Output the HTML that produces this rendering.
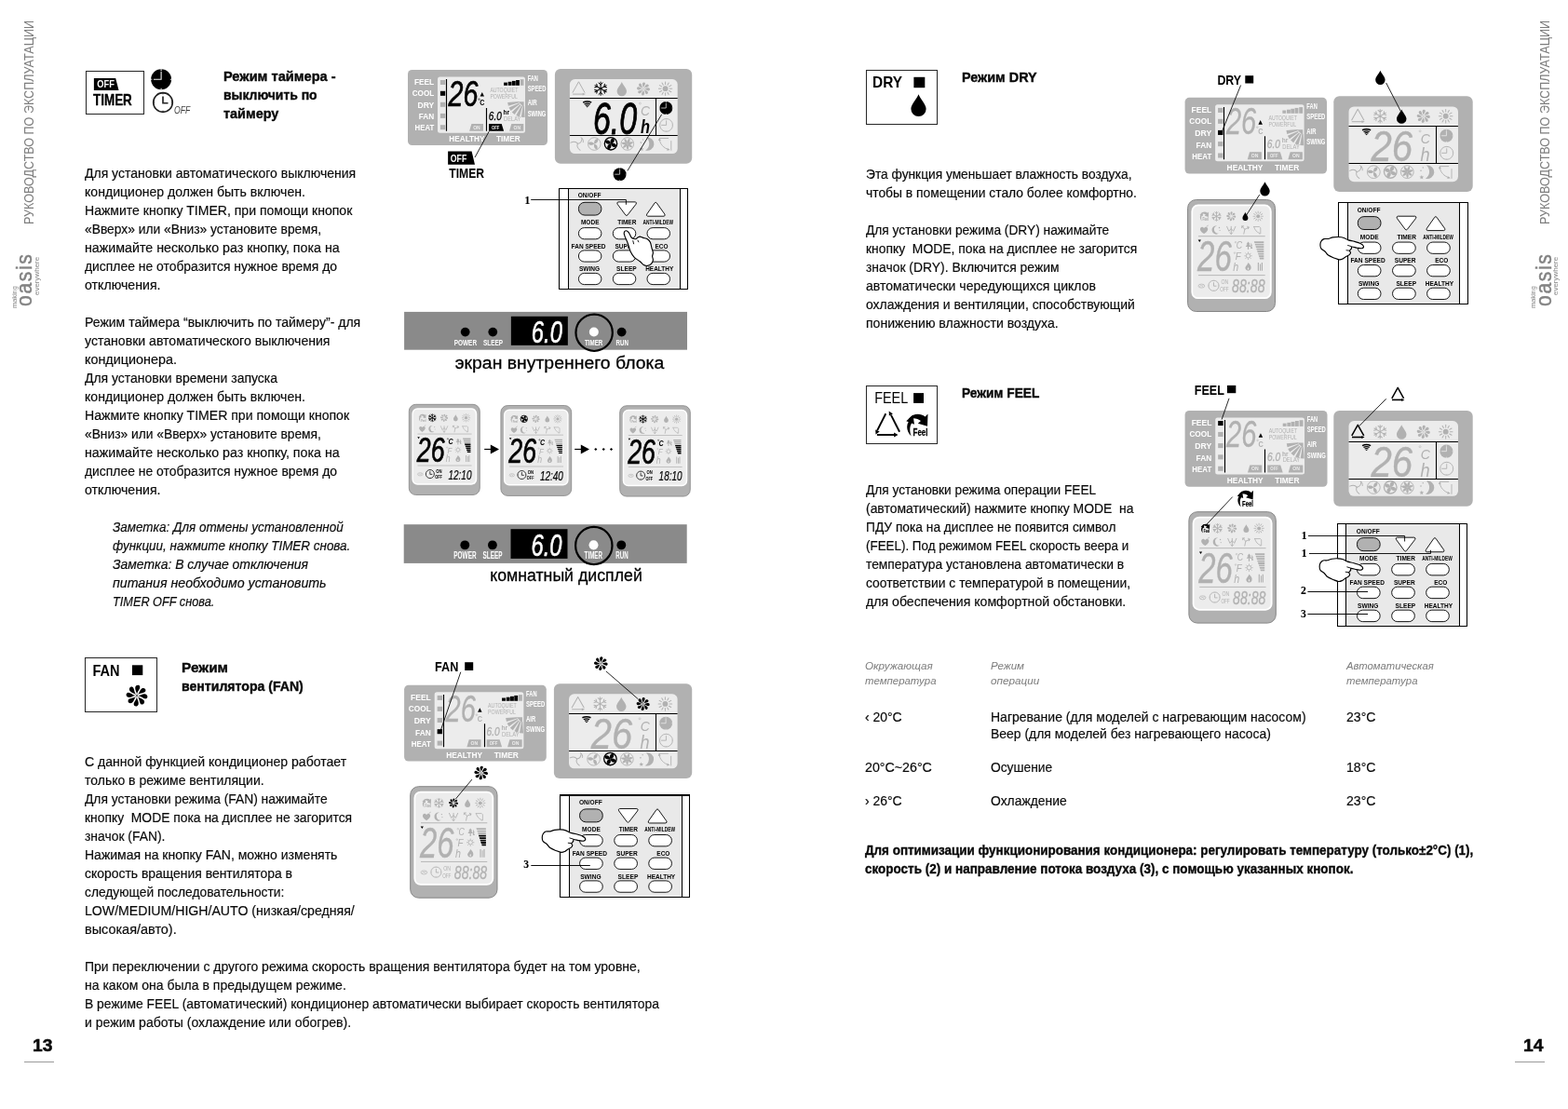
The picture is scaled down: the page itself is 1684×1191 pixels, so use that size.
<!DOCTYPE html>
<html lang="ru">
<head>
<meta charset="utf-8">
<title>Руководство по эксплуатации — стр. 13–14</title>
<style>
html,body{margin:0;padding:0}
body{width:1684px;height:1191px;position:relative;overflow:hidden;background:#fff;
font-family:"Liberation Sans",sans-serif;-webkit-font-smoothing:antialiased}
.spread{position:absolute;left:0;top:0;width:1684px;height:1191px;will-change:transform}
.t{position:absolute;white-space:pre;transform-origin:0 0;margin:0}
.side{position:absolute;white-space:nowrap;transform-origin:0 0;color:#7d7d7d;font-size:15px;line-height:15px}
.logo{position:absolute;white-space:nowrap;transform-origin:0 0;color:#8b8b8b;line-height:1}
.logo.big{font-weight:400;font-size:23.6px;color:#828282;-webkit-text-stroke:0.45px #828282;letter-spacing:1.8px}
.logo.sm{font-size:7px;color:#858585}
.pnl{position:absolute;height:0;border-top:1px solid #9a9a9a}
svg.art{position:absolute;left:0;top:0;width:1684px;height:1191px;overflow:visible}
svg.art{font-family:"Liberation Sans",sans-serif;font-weight:700}
.t.b{font-size:14.7px;line-height:20px;font-weight:400;font-style:normal;color:#0a0a0a;-webkit-text-stroke:0.18px currentColor}
.t.h{font-size:15.5px;line-height:20px;font-weight:700;font-style:normal;color:#0a0a0a;-webkit-text-stroke:0.42px currentColor}
.t.i{font-size:14.7px;line-height:20px;font-weight:400;font-style:italic;color:#0a0a0a;-webkit-text-stroke:0.18px currentColor}
.t.th{font-size:11.8px;line-height:16px;font-weight:400;font-style:italic;color:#7c7c7c}
.t.bb{font-size:14.8px;line-height:20px;font-weight:700;font-style:normal;color:#0a0a0a;-webkit-text-stroke:0.38px currentColor}
.t.pn{font-size:18.2px;line-height:20px;font-weight:700;font-style:normal;color:#0a0a0a;-webkit-text-stroke:0.5px currentColor}</style>
</head>
<body>
<div class="spread">
<div class="side" id="sl" style="left:23.2px;top:240.6px;transform:rotate(-90deg) scaleX(0.8378)">РУКОВОДСТВО ПО ЭКСПЛУАТАЦИИ</div>
<div class="side" id="sr" style="left:1651.1px;top:240.6px;transform:rotate(-90deg) scaleX(0.8378)">РУКОВОДСТВО ПО ЭКСПЛУАТАЦИИ</div>
<div class="logo big" id="lgL" style="left:15.42px;top:329px;transform:rotate(-90deg) scaleX(0.8987)">oasis</div>
<div class="logo sm" id="mkL" style="left:12.27px;top:331px;transform:rotate(-90deg) scaleX(1.0541)">making</div>
<div class="logo sm" id="evL" style="left:36.07px;top:316.6px;transform:rotate(-90deg) scaleX(1.1385)">everywhere</div>
<div class="logo big" id="lgR" style="left:1646.62px;top:329px;transform:rotate(-90deg) scaleX(0.8987)">oasis</div>
<div class="logo sm" id="mkR" style="left:1643.47px;top:331px;transform:rotate(-90deg) scaleX(1.0541)">making</div>
<div class="logo sm" id="evR" style="left:1667.27px;top:316.6px;transform:rotate(-90deg) scaleX(1.1385)">everywhere</div>
<div class="pnl" style="left:26px;top:1140px;width:32px"></div>
<div class="pnl" style="left:1627px;top:1140px;width:32px"></div>
<h2 class="t h" id="l0" style="left:240.3px;top:71.53px;transform:scaleX(0.9418)">Режим таймера -</h2>
<h2 class="t h" id="l1" style="left:240.3px;top:91.53px;transform:scaleX(0.8982)">выключить по</h2>
<h2 class="t h" id="l2" style="left:240.3px;top:111.53px;transform:scaleX(0.9307)">таймеру</h2>
<p class="t b" id="l3" style="left:91.2px;top:175.61px;transform:scaleX(0.9533)">Для установки автоматического выключения</p>
<p class="t b" id="l4" style="left:91.2px;top:195.61px;transform:scaleX(0.9582)">кондиционер должен быть включен.</p>
<p class="t b" id="l5" style="left:91.2px;top:215.61px;transform:scaleX(0.9555)">Нажмите кнопку TIMER, при помощи кнопок</p>
<p class="t b" id="l6" style="left:91.2px;top:235.61px;transform:scaleX(0.9400)">«Вверх» или «Вниз» установите время,</p>
<p class="t b" id="l7" style="left:91.2px;top:255.61px;transform:scaleX(0.9692)">нажимайте несколько раз кнопку, пока на</p>
<p class="t b" id="l8" style="left:91.2px;top:275.61px;transform:scaleX(0.9461)">дисплее не отобразится нужное время до</p>
<p class="t b" id="l9" style="left:91.2px;top:295.61px;transform:scaleX(0.9633)">отключения.</p>
<p class="t b" id="l10" style="left:91.2px;top:335.61px;transform:scaleX(0.9551)">Режим таймера “выключить по таймеру”- для</p>
<p class="t b" id="l11" style="left:91.2px;top:355.61px;transform:scaleX(0.9588)">установки автоматического выключения</p>
<p class="t b" id="l12" style="left:91.2px;top:375.61px;transform:scaleX(0.9778)">кондиционера.</p>
<p class="t b" id="l13" style="left:91.2px;top:395.61px;transform:scaleX(0.9508)">Для установки времени запуска</p>
<p class="t b" id="l14" style="left:91.2px;top:415.61px;transform:scaleX(0.9582)">кондиционер должен быть включен.</p>
<p class="t b" id="l15" style="left:91.2px;top:435.61px;transform:scaleX(0.9579)">Нажмите кнопку TIMER при помощи кнопок</p>
<p class="t b" id="l16" style="left:91.2px;top:455.61px;transform:scaleX(0.9393)">«Вниз» или «Вверх» установите время,</p>
<p class="t b" id="l17" style="left:91.2px;top:475.61px;transform:scaleX(0.9692)">нажимайте несколько раз кнопку, пока на</p>
<p class="t b" id="l18" style="left:91.2px;top:495.61px;transform:scaleX(0.9461)">дисплее не отобразится нужное время до</p>
<p class="t b" id="l19" style="left:91.2px;top:515.61px;transform:scaleX(0.9633)">отключения.</p>
<p class="t i" id="l20" style="left:120.9px;top:555.61px;transform:scaleX(0.9172)">Заметка: Для отмены установленной</p>
<p class="t i" id="l21" style="left:120.9px;top:575.61px;transform:scaleX(0.9155)">функции, нажмите кнопку TIMER снова.</p>
<p class="t i" id="l22" style="left:120.9px;top:595.61px;transform:scaleX(0.9488)">Заметка: В случае отключения</p>
<p class="t i" id="l23" style="left:120.9px;top:615.61px;transform:scaleX(0.9655)">питания необходимо установить</p>
<p class="t i" id="l24" style="left:120.9px;top:635.61px;transform:scaleX(0.8664)">TIMER OFF снова.</p>
<h2 class="t h" id="l25" style="left:194.7px;top:707.43px;transform:scaleX(0.9929)">Режим</h2>
<h2 class="t h" id="l26" style="left:194.7px;top:727.03px;transform:scaleX(0.9090)">вентилятора (FAN)</h2>
<p class="t b" id="l27" style="left:91.2px;top:807.61px;transform:scaleX(0.9572)">С данной функцией кондиционер работает</p>
<p class="t b" id="l28" style="left:91.2px;top:827.61px;transform:scaleX(0.9526)">только в режиме вентиляции.</p>
<p class="t b" id="l29" style="left:91.2px;top:847.61px;transform:scaleX(0.9405)">Для установки режима (FAN) нажимайте</p>
<p class="t b" id="l30" style="left:91.2px;top:867.61px;transform:scaleX(0.9440)">кнопку  MODE пока на дисплее не загорится</p>
<p class="t b" id="l31" style="left:91.2px;top:887.61px;transform:scaleX(0.9447)">значок (FAN).</p>
<p class="t b" id="l32" style="left:91.2px;top:907.61px;transform:scaleX(0.9529)">Нажимая на кнопку FAN, можно изменять</p>
<p class="t b" id="l33" style="left:91.2px;top:927.61px;transform:scaleX(0.9479)">скорость вращения вентилятора в</p>
<p class="t b" id="l34" style="left:91.2px;top:947.61px;transform:scaleX(0.9388)">следующей последовательности:</p>
<p class="t b" id="l35" style="left:91.2px;top:967.61px;transform:scaleX(0.9608)">LOW/MEDIUM/HIGH/AUTO (низкая/средняя/</p>
<p class="t b" id="l36" style="left:91.2px;top:987.61px;transform:scaleX(0.9836)">высокая/авто).</p>
<p class="t b" id="l37" style="left:91.2px;top:1027.61px;transform:scaleX(0.9526)">При переключении с другого режима скорость вращения вентилятора будет на том уровне,</p>
<p class="t b" id="l38" style="left:91.2px;top:1047.61px;transform:scaleX(0.9543)">на каком она была в предыдущем режиме.</p>
<p class="t b" id="l39" style="left:91.2px;top:1067.61px;transform:scaleX(0.9458)">В режиме FEEL (автоматический) кондиционер автоматически выбирает скорость вентилятора</p>
<p class="t b" id="l40" style="left:91.2px;top:1087.61px;transform:scaleX(0.9571)">и режим работы (охлаждение или обогрев).</p>
<h2 class="t h" id="l41" style="left:1033.2px;top:72.63px;transform:scaleX(0.9284)">Режим DRY</h2>
<p class="t b" id="l42" style="left:930px;top:176.71px;transform:scaleX(0.9361)">Эта функция уменьшает влажность воздуха,</p>
<p class="t b" id="l43" style="left:930px;top:196.71px;transform:scaleX(0.9422)">чтобы в помещении стало более комфортно.</p>
<p class="t b" id="l44" style="left:930px;top:236.71px;transform:scaleX(0.9353)">Для установки режима (DRY) нажимайте</p>
<p class="t b" id="l45" style="left:930px;top:256.71px;transform:scaleX(0.9448)">кнопку  MODE, пока на дисплее не загорится</p>
<p class="t b" id="l46" style="left:930px;top:276.71px;transform:scaleX(0.9455)">значок (DRY). Включится режим</p>
<p class="t b" id="l47" style="left:930px;top:296.71px;transform:scaleX(0.9545)">автоматически чередующихся циклов</p>
<p class="t b" id="l48" style="left:930px;top:316.71px;transform:scaleX(0.9521)">охлаждения и вентиляции, способствующий</p>
<p class="t b" id="l49" style="left:930px;top:336.71px;transform:scaleX(0.9574)">понижению влажности воздуха.</p>
<h2 class="t h" id="l50" style="left:1033.2px;top:412.03px;transform:scaleX(0.8835)">Режим FEEL</h2>
<p class="t b" id="l51" style="left:930px;top:516.11px;transform:scaleX(0.9313)">Для установки режима операции FEEL</p>
<p class="t b" id="l52" style="left:930px;top:536.11px;transform:scaleX(0.9472)">(автоматический) нажмите кнопку MODE  на</p>
<p class="t b" id="l53" style="left:930px;top:556.11px;transform:scaleX(0.9362)">ПДУ пока на дисплее не появится символ</p>
<p class="t b" id="l54" style="left:930px;top:576.11px;transform:scaleX(0.9118)">(FEEL). Под режимом FEEL скорость веера и</p>
<p class="t b" id="l55" style="left:930px;top:596.11px;transform:scaleX(0.9413)">температура установлена автоматически в</p>
<p class="t b" id="l56" style="left:930px;top:616.11px;transform:scaleX(0.9456)">соответствии с температурой в помещении,</p>
<p class="t b" id="l57" style="left:930px;top:636.11px;transform:scaleX(0.9613)">для обеспечения комфортной обстановки.</p>
<p class="t th" id="l58" style="left:929.3px;top:706.81px;transform:scaleX(0.9901)">Окружающая</p>
<p class="t th" id="l59" style="left:929.3px;top:723.11px;transform:scaleX(0.9670)">температура</p>
<p class="t th" id="l60" style="left:1063.9px;top:706.81px;transform:scaleX(0.9746)">Режим</p>
<p class="t th" id="l61" style="left:1063.9px;top:723.11px;transform:scaleX(0.9922)">операции</p>
<p class="t th" id="l62" style="left:1445.6px;top:706.81px;transform:scaleX(0.9555)">Автоматическая</p>
<p class="t th" id="l63" style="left:1445.6px;top:723.11px;transform:scaleX(0.9670)">температура</p>
<p class="t b" id="l64" style="left:929.3px;top:760.11px;transform:scaleX(0.9498)">‹ 20°C</p>
<p class="t b" id="l65" style="left:1063.9px;top:760.11px;transform:scaleX(0.9526)">Нагревание (для моделей с нагревающим насосом)</p>
<p class="t b" id="l66" style="left:1063.9px;top:778.31px;transform:scaleX(0.9489)">Веер (для моделей без нагревающего насоса)</p>
<p class="t b" id="l67" style="left:1445.6px;top:760.11px;transform:scaleX(0.9565)">23°C</p>
<p class="t b" id="l68" style="left:929.3px;top:814.11px;transform:scaleX(0.9688)">20°C~26°C</p>
<p class="t b" id="l69" style="left:1063.9px;top:814.11px;transform:scaleX(0.9382)">Осушение</p>
<p class="t b" id="l70" style="left:1445.6px;top:814.11px;transform:scaleX(0.9565)">18°C</p>
<p class="t b" id="l71" style="left:929.3px;top:850.41px;transform:scaleX(0.9498)">› 26°C</p>
<p class="t b" id="l72" style="left:1063.9px;top:850.41px;transform:scaleX(0.9445)">Охлаждение</p>
<p class="t b" id="l73" style="left:1445.6px;top:850.41px;transform:scaleX(0.9565)">23°C</p>
<p class="t bb" id="l74" style="left:929.3px;top:902.97px;transform:scaleX(0.9080)">Для оптимизации функционирования кондиционера: регулировать температуру (только±2°C) (1),</p>
<p class="t bb" id="l75" style="left:929.3px;top:922.97px;transform:scaleX(0.9115)">скорость (2) и направление потока воздуха (3), с помощью указанных кнопок.</p>
<div class="t pn" id="l76" style="left:34.6px;top:1112.89px;transform:scaleX(1.0576)">13</div>
<div class="t pn" id="l77" style="left:1635.6px;top:1112.89px;transform:scaleX(1.0576)">14</div>
<svg class="art" role="img" aria-label="Иллюстрации: дисплеи и пульт управления" width="1684" height="1191" viewBox="0 0 1684 1191"><defs><g id="i-tri"><path d="M-6.6 4.6L0 -7.2L6.6 4.6" stroke="currentColor" fill="none" stroke-width="1" stroke-linejoin="round"/><path d="M-6.4 6.1H5.2" stroke="currentColor" fill="none" stroke-width="1"/><path d="M4.2 4.7L7.4 6.1L4.2 7.5Z" fill="currentColor" stroke="none"/></g><g id="i-trib"><path d="M-6.4 4.4L0 -7L6.4 4.4" stroke="currentColor" fill="none" stroke-width="1.5" stroke-linejoin="round"/><path d="M-6.2 6H5" stroke="currentColor" fill="none" stroke-width="1.6"/><path d="M4 4.5L7.2 6L4 7.5Z" fill="currentColor" stroke="none"/></g><g id="i-tri3"><path d="M-2.2 -11L-11.4 7.2" stroke="currentColor" fill="none" stroke-width="1.9"/><path d="M-13.3 6.2L-13 11.4L-8.8 8.4Z" fill="currentColor" stroke="none"/><path d="M12.6 8.6L3.4 -9.6" stroke="currentColor" fill="none" stroke-width="1.9"/><path d="M1.4 -8.6L1.2 -13.8L5.4 -10.8Z" fill="currentColor" stroke="none"/><path d="M-11.6 11.8H7.6" stroke="currentColor" fill="none" stroke-width="1.9"/><path d="M6.6 9.2L11 11.8L6.6 14.4Z" fill="currentColor" stroke="none"/></g><g id="i-snow" stroke="currentColor" fill="none" stroke-width="1" stroke-linecap="round"><g transform="rotate(0)"><path d="M0 0V-7.1M0 -4.2L-2.1 -6.2M0 -4.2L2.1 -6.2"/></g><g transform="rotate(60)"><path d="M0 0V-7.1M0 -4.2L-2.1 -6.2M0 -4.2L2.1 -6.2"/></g><g transform="rotate(120)"><path d="M0 0V-7.1M0 -4.2L-2.1 -6.2M0 -4.2L2.1 -6.2"/></g><g transform="rotate(180)"><path d="M0 0V-7.1M0 -4.2L-2.1 -6.2M0 -4.2L2.1 -6.2"/></g><g transform="rotate(240)"><path d="M0 0V-7.1M0 -4.2L-2.1 -6.2M0 -4.2L2.1 -6.2"/></g><g transform="rotate(300)"><path d="M0 0V-7.1M0 -4.2L-2.1 -6.2M0 -4.2L2.1 -6.2"/></g></g><path id="i-drop" d="M0 -7.4C1.3 -4.2 5.2 -0.4 5.2 2.6A5.2 5.2 0 0 1 -5.2 2.6C-5.2 -0.4 -1.3 -4.2 0 -7.4Z" fill="currentColor" stroke="none"/><g id="i-fan" fill="currentColor" stroke="none"><g transform="rotate(0)"><path d="M0.05 -0.9C-0.05 -2.4 -1.45 -3.9 -1.05 -5.6C-0.65 -7.2 1.45 -7.5 1.95 -6.1C2.45 -4.7 0.5 -3.3 0.05 -0.9Z"/></g><g transform="rotate(45)"><path d="M0.05 -0.9C-0.05 -2.4 -1.45 -3.9 -1.05 -5.6C-0.65 -7.2 1.45 -7.5 1.95 -6.1C2.45 -4.7 0.5 -3.3 0.05 -0.9Z"/></g><g transform="rotate(90)"><path d="M0.05 -0.9C-0.05 -2.4 -1.45 -3.9 -1.05 -5.6C-0.65 -7.2 1.45 -7.5 1.95 -6.1C2.45 -4.7 0.5 -3.3 0.05 -0.9Z"/></g><g transform="rotate(135)"><path d="M0.05 -0.9C-0.05 -2.4 -1.45 -3.9 -1.05 -5.6C-0.65 -7.2 1.45 -7.5 1.95 -6.1C2.45 -4.7 0.5 -3.3 0.05 -0.9Z"/></g><g transform="rotate(180)"><path d="M0.05 -0.9C-0.05 -2.4 -1.45 -3.9 -1.05 -5.6C-0.65 -7.2 1.45 -7.5 1.95 -6.1C2.45 -4.7 0.5 -3.3 0.05 -0.9Z"/></g><g transform="rotate(225)"><path d="M0.05 -0.9C-0.05 -2.4 -1.45 -3.9 -1.05 -5.6C-0.65 -7.2 1.45 -7.5 1.95 -6.1C2.45 -4.7 0.5 -3.3 0.05 -0.9Z"/></g><g transform="rotate(270)"><path d="M0.05 -0.9C-0.05 -2.4 -1.45 -3.9 -1.05 -5.6C-0.65 -7.2 1.45 -7.5 1.95 -6.1C2.45 -4.7 0.5 -3.3 0.05 -0.9Z"/></g><g transform="rotate(315)"><path d="M0.05 -0.9C-0.05 -2.4 -1.45 -3.9 -1.05 -5.6C-0.65 -7.2 1.45 -7.5 1.95 -6.1C2.45 -4.7 0.5 -3.3 0.05 -0.9Z"/></g><circle r="0.8" opacity="0.55"/></g><g id="i-sun"><circle r="2.9" fill="currentColor" stroke="none"/><g stroke="currentColor" fill="none" stroke-width="1" stroke-linecap="round"><g transform="rotate(0)"><path d="M0 -4.6V-7.2"/></g><g transform="rotate(30)"><path d="M0 -4.6V-7.2"/></g><g transform="rotate(60)"><path d="M0 -4.6V-7.2"/></g><g transform="rotate(90)"><path d="M0 -4.6V-7.2"/></g><g transform="rotate(120)"><path d="M0 -4.6V-7.2"/></g><g transform="rotate(150)"><path d="M0 -4.6V-7.2"/></g><g transform="rotate(180)"><path d="M0 -4.6V-7.2"/></g><g transform="rotate(210)"><path d="M0 -4.6V-7.2"/></g><g transform="rotate(240)"><path d="M0 -4.6V-7.2"/></g><g transform="rotate(270)"><path d="M0 -4.6V-7.2"/></g><g transform="rotate(300)"><path d="M0 -4.6V-7.2"/></g><g transform="rotate(330)"><path d="M0 -4.6V-7.2"/></g></g></g><g id="i-wifi"><g stroke="currentColor" fill="none"><path d="M-4.5 -1.9Q0 -3.9 4.5 -1.9" stroke-width="1.5"/><path d="M-3.1 -0.1Q0 -1.5 3.1 -0.1" stroke-width="1.3"/><path d="M-1.9 1.5Q0 0.7 1.9 1.5" stroke-width="1.2"/></g><path d="M-1.2 2.4H1.2L0 3.5Z" fill="currentColor" stroke="none"/></g><g id="i-clockf"><circle r="7" fill="currentColor" stroke="none"/><path d="M0 -5.4V0H-5.2" fill="none" stroke="#f2f2f2" stroke-width="0.7"/><path d="M0 -7V-6M0 7V6M-7 0H-6.2M7 0H6.2" fill="none" stroke="#f2f2f2" stroke-width="0.7"/></g><g id="i-clocko" stroke="currentColor" fill="none"><circle r="6.9" stroke-width="0.9"/><path d="M0 -5V0H-5.4" stroke-width="0.9"/><path d="M0 -6.9V-6M0 6.9V6M6.9 0H6" stroke-width="0.7"/></g><g id="i-clocks" stroke="currentColor" fill="none"><circle r="5.6" stroke-width="0.9"/><path d="M0 -3.6V0.4H3" stroke-width="0.9"/><path d="M0 -5.6V-4.8M0 5.6V4.8M5.6 0H4.8M-5.6 0H-4.8" stroke-width="0.6"/></g><g id="i-swirl" stroke="currentColor" fill="none" stroke-width="0.95" stroke-linecap="round"><g transform="rotate(10)"><path d="M0 0C2.2 -0.6 4 -2.6 3.6 -6.6"/></g><g transform="rotate(130)"><path d="M0 0C2.2 -0.6 4 -2.6 3.6 -6.6"/></g><g transform="rotate(250)"><path d="M0 0C2.2 -0.6 4 -2.6 3.6 -6.6"/></g><path d="M3.6 -6.6C5.6 -5.4 6.4 -3.6 6 -1.6"/></g><g id="i-fan3"><circle r="6.8" stroke="currentColor" fill="none" stroke-width="0.9"/><g fill="currentColor" stroke="none"><g transform="rotate(20)"><path d="M0 0C-1.6 -2.4 -1 -5.4 1.6 -6.4C3.4 -4.4 2.6 -1.6 0 0Z"/></g><g transform="rotate(140)"><path d="M0 0C-1.6 -2.4 -1 -5.4 1.6 -6.4C3.4 -4.4 2.6 -1.6 0 0Z"/></g><g transform="rotate(260)"><path d="M0 0C-1.6 -2.4 -1 -5.4 1.6 -6.4C3.4 -4.4 2.6 -1.6 0 0Z"/></g></g></g><g id="i-fan4"><circle r="6.7" stroke="currentColor" fill="none" stroke-width="1.3"/><g fill="currentColor" stroke="none"><g transform="rotate(35)"><path d="M0 0C-2.6 -1.6 -3.4 -4.6 -1.2 -6.6C1.8 -5.8 2.6 -2.6 0 0Z"/></g><g transform="rotate(125)"><path d="M0 0C-2.6 -1.6 -3.4 -4.6 -1.2 -6.6C1.8 -5.8 2.6 -2.6 0 0Z"/></g><g transform="rotate(215)"><path d="M0 0C-2.6 -1.6 -3.4 -4.6 -1.2 -6.6C1.8 -5.8 2.6 -2.6 0 0Z"/></g><g transform="rotate(305)"><path d="M0 0C-2.6 -1.6 -3.4 -4.6 -1.2 -6.6C1.8 -5.8 2.6 -2.6 0 0Z"/></g></g></g><g id="i-fan6"><circle r="6.8" stroke="currentColor" fill="none" stroke-width="0.9"/><g fill="currentColor" stroke="none"><g transform="rotate(5)"><path d="M0 0C-1 -2.4 -0.2 -5 2 -6.3C3 -4 2.2 -1.4 0 0Z"/></g><g transform="rotate(56.43)"><path d="M0 0C-1 -2.4 -0.2 -5 2 -6.3C3 -4 2.2 -1.4 0 0Z"/></g><g transform="rotate(107.86)"><path d="M0 0C-1 -2.4 -0.2 -5 2 -6.3C3 -4 2.2 -1.4 0 0Z"/></g><g transform="rotate(159.29)"><path d="M0 0C-1 -2.4 -0.2 -5 2 -6.3C3 -4 2.2 -1.4 0 0Z"/></g><g transform="rotate(210.71)"><path d="M0 0C-1 -2.4 -0.2 -5 2 -6.3C3 -4 2.2 -1.4 0 0Z"/></g><g transform="rotate(262.14)"><path d="M0 0C-1 -2.4 -0.2 -5 2 -6.3C3 -4 2.2 -1.4 0 0Z"/></g><g transform="rotate(313.57)"><path d="M0 0C-1 -2.4 -0.2 -5 2 -6.3C3 -4 2.2 -1.4 0 0Z"/></g></g></g><g id="i-moon" fill="currentColor" stroke="none"><path d="M0.4 -7A7.2 7.2 0 1 1 -0.6 7A8.6 8.6 0 0 0 0.4 -7Z"/><path d="M-4.6 3.2l0.7 1.5 1.6 0.2-1.2 1.1 0.3 1.6-1.4-0.8-1.4 0.8 0.3-1.6-1.2-1.1 1.6-0.2Z"/><circle cx="-5.4" cy="-1.4" r="0.8"/><circle cx="-3.2" cy="-4.6" r="0.7"/></g><g id="i-swing"><g stroke="currentColor" fill="none" stroke-width="0.9" stroke-linecap="round"><path d="M-5.6 -6H3.4"/><path d="M-6 -5.2C-5.6 0 -1.6 4.8 4.4 6.2"/><path d="M6.6 -3V6.8"/></g><path d="M-7.2 -3.4L-6 -6.4L-4.4 -3.6Z" fill="currentColor" stroke="none"/><path d="M2.6 4.6L5.2 6.6L2 7.2Z" fill="currentColor" stroke="none"/></g><g id="s-feel"><path d="M-1.9 -3.2C-4.6 -1.2 -5.2 2 -2.4 5.1C-3.3 2.4 -3 0.6 -2.2 -0.7L-1 -0.2L-1.6 -4.4L-4.6 -1.6L-3.4 -1.2" fill="currentColor" stroke="none"/><path d="M-3.6 -2.6C-1.6 -5.2 1.6 -5.4 3.8 -3.6L5 -4.8L4.8 0.6L0.6 -0.6L1.9 -1.7C0.6 -3 -1.6 -3.2 -3.6 -2.6Z" fill="currentColor" stroke="none"/><text x="1.7" y="4.8" font-size="4.7" font-weight="700" text-anchor="middle" textLength="6.6" lengthAdjust="spacingAndGlyphs" fill="currentColor" stroke="currentColor" stroke-width="0.12">Feel</text></g><g id="s-snow" stroke="currentColor" fill="none" stroke-width="0.9" stroke-linecap="round"><g transform="rotate(0)"><path d="M0 0V-5M0 -3L-1.5 -4.5M0 -3L1.5 -4.5"/></g><g transform="rotate(60)"><path d="M0 0V-5M0 -3L-1.5 -4.5M0 -3L1.5 -4.5"/></g><g transform="rotate(120)"><path d="M0 0V-5M0 -3L-1.5 -4.5M0 -3L1.5 -4.5"/></g><g transform="rotate(180)"><path d="M0 0V-5M0 -3L-1.5 -4.5M0 -3L1.5 -4.5"/></g><g transform="rotate(240)"><path d="M0 0V-5M0 -3L-1.5 -4.5M0 -3L1.5 -4.5"/></g><g transform="rotate(300)"><path d="M0 0V-5M0 -3L-1.5 -4.5M0 -3L1.5 -4.5"/></g></g><g id="s-fan" fill="currentColor" stroke="none"><g transform="rotate(0)"><path d="M0.05 -0.7C0 -1.7 -1.05 -2.8 -0.75 -4C-0.45 -5.2 1.05 -5.4 1.4 -4.4C1.75 -3.4 0.35 -2.4 0.05 -0.7Z"/></g><g transform="rotate(45)"><path d="M0.05 -0.7C0 -1.7 -1.05 -2.8 -0.75 -4C-0.45 -5.2 1.05 -5.4 1.4 -4.4C1.75 -3.4 0.35 -2.4 0.05 -0.7Z"/></g><g transform="rotate(90)"><path d="M0.05 -0.7C0 -1.7 -1.05 -2.8 -0.75 -4C-0.45 -5.2 1.05 -5.4 1.4 -4.4C1.75 -3.4 0.35 -2.4 0.05 -0.7Z"/></g><g transform="rotate(135)"><path d="M0.05 -0.7C0 -1.7 -1.05 -2.8 -0.75 -4C-0.45 -5.2 1.05 -5.4 1.4 -4.4C1.75 -3.4 0.35 -2.4 0.05 -0.7Z"/></g><g transform="rotate(180)"><path d="M0.05 -0.7C0 -1.7 -1.05 -2.8 -0.75 -4C-0.45 -5.2 1.05 -5.4 1.4 -4.4C1.75 -3.4 0.35 -2.4 0.05 -0.7Z"/></g><g transform="rotate(225)"><path d="M0.05 -0.7C0 -1.7 -1.05 -2.8 -0.75 -4C-0.45 -5.2 1.05 -5.4 1.4 -4.4C1.75 -3.4 0.35 -2.4 0.05 -0.7Z"/></g><g transform="rotate(270)"><path d="M0.05 -0.7C0 -1.7 -1.05 -2.8 -0.75 -4C-0.45 -5.2 1.05 -5.4 1.4 -4.4C1.75 -3.4 0.35 -2.4 0.05 -0.7Z"/></g><g transform="rotate(315)"><path d="M0.05 -0.7C0 -1.7 -1.05 -2.8 -0.75 -4C-0.45 -5.2 1.05 -5.4 1.4 -4.4C1.75 -3.4 0.35 -2.4 0.05 -0.7Z"/></g></g><path id="s-drop" d="M0 -4.4C0.8 -2.4 3 -0.4 3 1.4A3 3 0 0 1 -3 1.4C-3 -0.4 -0.8 -2.4 0 -4.4Z" fill="currentColor" stroke="none"/><g id="s-sun"><circle r="2" fill="currentColor" stroke="none"/><g stroke="currentColor" fill="none" stroke-width="0.8" stroke-linecap="round"><g transform="rotate(0)"><path d="M0 -3.4V-5.2"/></g><g transform="rotate(30)"><path d="M0 -3.4V-5.2"/></g><g transform="rotate(60)"><path d="M0 -3.4V-5.2"/></g><g transform="rotate(90)"><path d="M0 -3.4V-5.2"/></g><g transform="rotate(120)"><path d="M0 -3.4V-5.2"/></g><g transform="rotate(150)"><path d="M0 -3.4V-5.2"/></g><g transform="rotate(180)"><path d="M0 -3.4V-5.2"/></g><g transform="rotate(210)"><path d="M0 -3.4V-5.2"/></g><g transform="rotate(240)"><path d="M0 -3.4V-5.2"/></g><g transform="rotate(270)"><path d="M0 -3.4V-5.2"/></g><g transform="rotate(300)"><path d="M0 -3.4V-5.2"/></g><g transform="rotate(330)"><path d="M0 -3.4V-5.2"/></g></g></g><g id="s-fanc"><circle r="4.6" stroke="currentColor" fill="none" stroke-width="1.1"/><g fill="currentColor" stroke="none"><g transform="rotate(35)"><path d="M0 0C-1.8 -1 -2.4 -3 -0.8 -4.4C1.2 -3.8 1.8 -1.8 0 0Z"/></g><g transform="rotate(125)"><path d="M0 0C-1.8 -1 -2.4 -3 -0.8 -4.4C1.2 -3.8 1.8 -1.8 0 0Z"/></g><g transform="rotate(215)"><path d="M0 0C-1.8 -1 -2.4 -3 -0.8 -4.4C1.2 -3.8 1.8 -1.8 0 0Z"/></g><g transform="rotate(305)"><path d="M0 0C-1.8 -1 -2.4 -3 -0.8 -4.4C1.2 -3.8 1.8 -1.8 0 0Z"/></g></g></g><g id="s-heart" fill="currentColor" stroke="none"><path d="M0 4.2C-3.6 2 -5 -0.4 -3.6 -2.4C-2.4 -3.8 -0.8 -3 0 -1.8C0.8 -3 2.4 -3.8 3.6 -2.4C5 -0.4 3.6 2 0 4.2Z"/><path d="M2.6 -3.6L4.6 -4.8" stroke="currentColor" stroke-width="0.8"/></g><g id="s-moon" fill="currentColor" stroke="none"><path d="M0.6 -4.4A4.6 4.6 0 1 0 2.6 3.6A3.8 3.8 0 0 1 0.6 -4.4Z"/><circle cx="3" cy="-2.4" r="0.7"/><circle cx="3.6" cy="0.6" r="0.6"/></g><g id="s-swv" stroke="currentColor" fill="none" stroke-width="0.9" stroke-linecap="round"><path d="M-4.6 -3.6L-2.4 1.4L0 -1.4L2.4 1.4L4.6 -3.6M0 -3.6V4.4M-1.4 3L0 4.6L1.4 3"/></g><g id="s-swh" stroke="currentColor" fill="none" stroke-width="0.9" stroke-linecap="round"><path d="M-3.6 -4L-0.6 -0.6L3.8 -2.8M-0.6 -0.6L-1.6 4.2M-3.8 -2.2L-3.6 -4L-1.8 -4M2.2 -3.6L3.8 -2.8L3 -1.2"/></g><g id="s-louv" stroke="currentColor" fill="none" stroke-width="0.8" stroke-linecap="round" stroke-linejoin="round"><path d="M-3.6 -3.4H2.4L3.6 -2.2V4H2.2M-3.6 -3.4C-2.4 0.4 -0.4 2.6 2.2 3.4"/></g><g id="s-tree" fill="currentColor" stroke="none"><path d="M0 -4.4L2 -1.6H1L2.8 1H-2.8L-1 -1.6H-2Z"/><path d="M-0.6 1H0.6V4H-0.6Z"/><path d="M3 -3.4L4.6 0.4H3.6L4.8 3H2.6Z"/></g><g id="s-gear" stroke="currentColor" fill="none" stroke-width="0.8"><circle r="2.2"/><g transform="rotate(0)"><path d="M0 -2.6V-4.2"/></g><g transform="rotate(45)"><path d="M0 -2.6V-4.2"/></g><g transform="rotate(90)"><path d="M0 -2.6V-4.2"/></g><g transform="rotate(135)"><path d="M0 -2.6V-4.2"/></g><g transform="rotate(180)"><path d="M0 -2.6V-4.2"/></g><g transform="rotate(225)"><path d="M0 -2.6V-4.2"/></g><g transform="rotate(270)"><path d="M0 -2.6V-4.2"/></g><g transform="rotate(315)"><path d="M0 -2.6V-4.2"/></g></g><g id="s-flame" fill="currentColor" stroke="none"><path d="M0 -4.4C2.6 -2 3.6 0 3 2.2C2.4 4 0.8 4.4 0 4.4C-0.8 4.4 -2.4 4 -3 2.2C-3.6 0 -1.4 -1 0 -4.4ZM0 0.6C-1 1.8 -1 3 0 3.4C1 3 1 1.8 0 0.6Z" fill-rule="evenodd"/></g><g id="s-heat" fill="currentColor" stroke="none"><path d="M-2.4 -4.4H-1.2V4.4H-2.4ZM-0.2 -3H0.8V4.4H-0.2ZM1.6 -4.4H2.8V4.4H1.6Z"/></g><g id="s-eco" stroke="currentColor" fill="none" stroke-width="0.7"><ellipse rx="3.4" ry="2"/><path d="M-1.8 0.6L-0.4 -0.8L0.6 0.4L2 -0.8"/></g></defs>
<g class="mode-box timer"><rect x="92.5" y="76.5" width="62" height="46" fill="#fff" stroke="#2a2a2a" stroke-width="1.05"/><path d="M100.9 84H124.2L127.5 96.9H100.9Z" fill="#000"/><text x="104.3" y="94.3" font-size="10.6" fill="#fff" textLength="18.6" lengthAdjust="spacingAndGlyphs">OFF</text><text x="100" y="112.9" font-size="16.2" fill="#000" stroke="#000" stroke-width="0.3" stroke-linejoin="round" textLength="41.8" lengthAdjust="spacingAndGlyphs">TIMER</text><use href="#i-clockf" transform="translate(173.1 85.3) scale(1.57)" color="#000"/><use href="#i-clocks" transform="translate(175 110) scale(1.84)" color="#222"/><text x="187" y="121.8" font-size="10.4" fill="#3c3c3c" font-weight="400" font-style="italic" textLength="17.2" lengthAdjust="spacingAndGlyphs">OFF</text></g>
<g class="figure timer"><g class="lcd-wide"><g transform="translate(438 75) scale(1.0000 1.0000)"><rect width="150" height="81" rx="4.5" fill="#b1b1b1"/><rect x="32" y="7.4" width="94" height="60.4" rx="2.5" fill="#ececec"/><text x="6.9" y="16.3" font-size="9.8" fill="#fff" textLength="21.3" lengthAdjust="spacingAndGlyphs">FEEL</text><text x="4.7" y="27.8" font-size="9.8" fill="#fff" textLength="23.5" lengthAdjust="spacingAndGlyphs">COOL</text><text x="10.5" y="40.5" font-size="9.8" fill="#fff" textLength="17.7" lengthAdjust="spacingAndGlyphs">DRY</text><text x="11.75" y="53.4" font-size="9.8" fill="#fff" textLength="16.45" lengthAdjust="spacingAndGlyphs">FAN</text><text x="7.6" y="65.2" font-size="9.8" fill="#fff" textLength="20.6" lengthAdjust="spacingAndGlyphs">HEAT</text><text x="128.7" y="11.75" font-size="9.6" fill="#fff" textLength="11.2" lengthAdjust="spacingAndGlyphs">FAN</text><text x="128.7" y="23.3" font-size="9.6" fill="#fff" textLength="19.7" lengthAdjust="spacingAndGlyphs">SPEED</text><text x="128.7" y="38.4" font-size="9.6" fill="#fff" textLength="10" lengthAdjust="spacingAndGlyphs">AIR</text><text x="128.7" y="50.2" font-size="9.6" fill="#fff" textLength="19.7" lengthAdjust="spacingAndGlyphs">SWING</text><text x="44.3" y="77.2" font-size="9.4" fill="#fff" textLength="38.2" lengthAdjust="spacingAndGlyphs">HEALTHY</text><text x="94.9" y="77.2" font-size="9.4" fill="#fff" textLength="25.8" lengthAdjust="spacingAndGlyphs">TIMER</text><rect x="34.9" y="11" width="5.3" height="5" fill="#b1b1b1"/><rect x="34.9" y="22.8" width="5.3" height="5" fill="#000"/><rect x="34.9" y="34.8" width="5.3" height="5" fill="#b1b1b1"/><rect x="34.9" y="46.9" width="5.3" height="5" fill="#b1b1b1"/><rect x="34.9" y="59.2" width="5.3" height="5" fill="#b1b1b1"/><text x="43.6" y="38.6" font-size="39.6" fill="#000" font-weight="400" font-style="italic" stroke="#000" stroke-width="0.7" stroke-linejoin="round" textLength="31.8" lengthAdjust="spacingAndGlyphs">26</text><path d="M77.6 28.6L79.8 24.1L82 28.6Z" fill="#000"/><text x="77.3" y="38.4" font-size="8.6" fill="#000" textLength="5.2" lengthAdjust="spacingAndGlyphs">C</text><circle cx="76.5" cy="31.6" r="0.8" fill="none" stroke="#000" stroke-width="0.5"/><rect x="103.1" y="13.6" width="3.8" height="3.2" fill="#000"/><rect x="107.7" y="12.8" width="3.8" height="4" fill="#000"/><rect x="111.9" y="11.9" width="3.8" height="4.9" fill="#000"/><rect x="116.1" y="11" width="3.8" height="5.8" fill="#000"/><rect x="120.7" y="10.2" width="3.8" height="6.6" fill="#b1b1b1"/><text x="88.4" y="23.9" font-size="7" fill="#b1b1b1" font-weight="400" textLength="30" lengthAdjust="spacingAndGlyphs">AUTOQUIET</text><text x="88.4" y="30.6" font-size="7" fill="#b1b1b1" font-weight="400" textLength="29.4" lengthAdjust="spacingAndGlyphs">POWERFUL</text><path d="M124.94 39.09L125.67 51.07L121.71 50.86L123.69 39.02Z" fill="#b1b1b1"/><path d="M123.13 38.9L119.92 50.46L116.25 48.98L121.98 38.43Z" fill="#b1b1b1"/><path d="M121.48 38.13L114.69 48.02L111.7 45.42L120.54 37.32Z" fill="#b1b1b1"/><path d="M120.18 36.87L110.53 44.01L108.55 40.58L119.56 35.79Z" fill="#b1b1b1"/><path d="M119.35 35.25L107.91 38.86L107.15 34.97L119.12 34.03Z" fill="#b1b1b1"/><path d="M124.6 34.2h-6l6 6z" fill="#b1b1b1"/><text x="86.8" y="53.5" font-size="13" fill="#000" font-weight="400" font-style="italic" stroke="#000" stroke-width="0.3" stroke-linejoin="round" textLength="14" lengthAdjust="spacingAndGlyphs">6.0</text><text x="102.5" y="48.2" font-size="7.6" fill="#000" textLength="6.5" lengthAdjust="spacingAndGlyphs">hr</text><text x="103.1" y="54.7" font-size="7" fill="#b1b1b1" font-weight="400" textLength="18.2" lengthAdjust="spacingAndGlyphs">DELAY</text><path d="M68.4 58H81V65.8H66.1Z" fill="#b1b1b1"/><text x="73.9" y="63.9" font-size="5" fill="#ececec" text-anchor="middle">ON</text><path d="M87 58H100.7L103.1 65.8H87Z" fill="#000"/><text x="94.2" y="63.9" font-size="5" fill="#ececec" text-anchor="middle" textLength="8.4" lengthAdjust="spacingAndGlyphs">OFF</text><path d="M111.3 58H124.3V65.8H109Z" fill="#b1b1b1"/><text x="117.3" y="63.9" font-size="5" fill="#ececec" text-anchor="middle">ON</text></g><path d="M479.5 85V140.8M522.5 116.1V140.8" stroke="#000" stroke-width="1.15" fill="none"/></g><path d="M525.2 141.2L510 169" stroke="#000" stroke-width="0.85" fill="none"/><path d="M481.1 162.6H506.6L510 176.7H481.1Z" fill="#000"/><text x="483.8" y="174" font-size="10.6" fill="#fff" textLength="17.4" lengthAdjust="spacingAndGlyphs">OFF</text><text x="482.3" y="190.8" font-size="14" fill="#000" textLength="37.7" lengthAdjust="spacingAndGlyphs">TIMER</text><g class="lcd-main"><g transform="translate(595.9 74.1) scale(1.0000 1.0000)"><rect width="147.3" height="101.7" rx="6" fill="#b1b1b1"/><rect x="16" y="11" width="115.8" height="79.9" rx="5.5" fill="#ececec"/><use href="#i-tri" transform="translate(25.6 20.9)" color="#b1b1b1"/><use href="#i-snow" transform="translate(49.2 21.1)" color="#000"/><use href="#i-drop" transform="translate(71.9 21.3)" color="#b1b1b1"/><use href="#i-fan" transform="translate(95.1 21.3)" color="#b1b1b1"/><use href="#i-sun" transform="translate(118.7 21.1)" color="#b1b1b1"/><use href="#i-wifi" transform="translate(34.8 37.8)" color="#000"/><text x="41" y="69.5" font-size="47.4" fill="#000" font-weight="400" font-style="italic" stroke="#000" stroke-width="0.9" stroke-linejoin="round" textLength="47.2" lengthAdjust="spacingAndGlyphs">6.0</text><circle cx="91.5" cy="37" r="1" fill="none" stroke="#b1b1b1" stroke-width="0.5"/><text x="92.2" y="49.9" font-size="15" fill="#b1b1b1" font-weight="400" font-style="italic" textLength="10" lengthAdjust="spacingAndGlyphs">C</text><text x="92" y="68.8" font-size="20" fill="#000" font-style="italic" textLength="10" lengthAdjust="spacingAndGlyphs">h</text><use href="#i-clockf" transform="translate(119.4 41.9)" color="#000"/><use href="#i-clocko" transform="translate(119.7 60.3)" color="#b1b1b1"/><use href="#i-swirl" transform="translate(24.5 80.21)" color="#b1b1b1"/><use href="#i-fan3" transform="translate(42.4 80.41)" color="#b1b1b1"/><use href="#i-fan4" transform="translate(60.1 80.21)" color="#000"/><use href="#i-fan6" transform="translate(77.9 80.41)" color="#b1b1b1"/><use href="#i-moon" transform="translate(97.8 80.41)" color="#b1b1b1"/><use href="#i-swing" transform="translate(118.3 80.41)" color="#b1b1b1"/></g><path d="M611.9 105.5H727.7M611.9 145.5H727.7M704.5 105.5V145.5" stroke="#000" stroke-width="1.05" fill="none"/></g><path d="M710.7 122.8L673.9 183.4" stroke="#000" stroke-width="0.85" fill="none"/><use href="#i-clockf" transform="translate(665.6 187.2)" color="#000"/><g class="keypad"><rect x="600.5" y="202.5" width="138" height="108" fill="#fff"/><rect x="610.5" y="202.5" width="120" height="108" fill="#e9e9e9"/><path d="M600.5 202.5H738.5V310.5H600.5ZM610.5 202.5V310.5M730.5 202.5V310.5" fill="none" stroke="#000" stroke-width="1.05"/><g class="keys" transform="translate(600.4 202.3) scale(1.0000 1.0000)"><rect x="21" y="15" width="24.5" height="13.8" rx="6.6" fill="#b1b1b1" stroke="#000" stroke-width="0.9"/><path d="M63.6 14.6H81.8Q84 15 82.6 17L73.6 28.6Q72.5 29.8 71.4 28.6L62.8 17Q61.6 15 63.6 14.6Z" fill="#fff" stroke="#000" stroke-width="0.9"/><path d="M95.2 29.9H112.6Q114.6 29.4 113.4 27.6L104.8 15.6Q103.8 14.4 102.8 15.6L94.4 27.6Q93.2 29.4 95.2 29.9Z" fill="#fff" stroke="#000" stroke-width="0.9"/><rect x="21" y="42.3" width="24.5" height="12.2" rx="6.1" fill="#fff" stroke="#000" stroke-width="0.9"/><rect x="57.9" y="42.3" width="24.5" height="12.2" rx="6.1" fill="#fff" stroke="#000" stroke-width="0.9"/><rect x="94.6" y="42.3" width="24.5" height="12.2" rx="6.1" fill="#fff" stroke="#000" stroke-width="0.9"/><rect x="21" y="66.6" width="24.5" height="12.2" rx="6.1" fill="#fff" stroke="#000" stroke-width="0.9"/><rect x="57.9" y="66.6" width="24.5" height="12.2" rx="6.1" fill="#fff" stroke="#000" stroke-width="0.9"/><rect x="94.6" y="66.6" width="24.5" height="12.2" rx="6.1" fill="#fff" stroke="#000" stroke-width="0.9"/><rect x="21" y="91.1" width="24.5" height="12.2" rx="6.1" fill="#fff" stroke="#000" stroke-width="0.9"/><rect x="57.9" y="91.1" width="24.5" height="12.2" rx="6.1" fill="#fff" stroke="#000" stroke-width="0.9"/><rect x="94.6" y="91.1" width="24.5" height="12.2" rx="6.1" fill="#fff" stroke="#000" stroke-width="0.9"/><text x="32.7" y="10.2" font-size="7.4" fill="#000" text-anchor="middle" textLength="24.6" lengthAdjust="spacingAndGlyphs">ON/OFF</text><text x="33.3" y="39.2" font-size="7.4" fill="#000" text-anchor="middle" textLength="19.6" lengthAdjust="spacingAndGlyphs">MODE</text><text x="72.9" y="39.2" font-size="7.4" fill="#000" text-anchor="middle" textLength="20.2" lengthAdjust="spacingAndGlyphs">TIMER</text><text x="106.4" y="39.2" font-size="7.4" fill="#000" text-anchor="middle" textLength="32.4" lengthAdjust="spacingAndGlyphs">ANTI-MILDEW</text><text x="31.7" y="64.3" font-size="7.4" fill="#000" text-anchor="middle" textLength="37" lengthAdjust="spacingAndGlyphs">FAN SPEED</text><text x="71.4" y="64.3" font-size="7.4" fill="#000" text-anchor="middle" textLength="22.6" lengthAdjust="spacingAndGlyphs">SUPER</text><text x="110.1" y="64.3" font-size="7.4" fill="#000" text-anchor="middle" textLength="14" lengthAdjust="spacingAndGlyphs">ECO</text><text x="32.7" y="88.8" font-size="7.4" fill="#000" text-anchor="middle" textLength="22.2" lengthAdjust="spacingAndGlyphs">SWING</text><text x="72.5" y="88.8" font-size="7.4" fill="#000" text-anchor="middle" textLength="21.6" lengthAdjust="spacingAndGlyphs">SLEEP</text><text x="107.8" y="88.8" font-size="7.4" fill="#000" text-anchor="middle" textLength="30" lengthAdjust="spacingAndGlyphs">HEALTHY</text><path d="M71.8 45.5C70.97 45.58 69.97 46.75 69.8 47.8C69.63 48.85 70.13 49.95 70.8 51.8C71.47 53.65 72.8 56.2 73.8 58.9C74.8 61.6 75.63 65.48 76.8 68C77.97 70.52 79.12 72.25 80.8 74C82.48 75.75 85.22 77.12 86.9 78.5C88.58 79.88 89.57 81.53 90.9 82.3C92.23 83.07 93.55 83.3 94.9 83.1C96.25 82.9 97.98 82.12 99 81.1C100.02 80.08 100.8 78.35 101 77C101.2 75.65 100.2 74.33 100.2 73C100.2 71.67 101.12 70.52 101 69C100.88 67.48 100 65.75 99.5 63.9C99 62.05 98.77 59.48 98 57.9C97.23 56.32 96.17 55.2 94.9 54.4C93.63 53.6 91.73 53.53 90.4 53.1C89.07 52.67 87.9 51.83 86.9 51.8C85.9 51.77 85.17 52.47 84.4 52.9C83.63 53.33 83.07 54.23 82.3 54.4C81.53 54.57 80.55 54.15 79.8 53.9C79.05 53.65 78.63 54 77.8 52.9C76.97 51.8 75.8 48.53 74.8 47.3C73.8 46.07 72.63 45.42 71.8 45.5Z" fill="#fff" stroke="#000" stroke-width="1.15" stroke-linejoin="round"/><path d="M79.3 55.9L80.3 59.9M84.4 55.4L85.6 57.9" fill="none" stroke="#000" stroke-width="0.9"/></g></g><text x="563.6" y="218.5" font-family="Liberation Serif,serif" font-size="11.6" font-weight="700" stroke="#000" stroke-width="0.12" fill="#000">1</text><path d="M570.2 214.5L672.4 214.5L672.4 219.8" stroke="#000" stroke-width="0.9" fill="none"/><g class="indoor" transform="translate(434.1 334.9) scale(0.9997 0.9951)"><rect width="304" height="41" fill="#8a8a8a"/><rect x="114.8" y="4.9" width="61" height="31.2" fill="#000"/><text x="136.8" y="33.3" font-size="33.2" fill="#fff" font-weight="400" font-style="italic" stroke="#fff" stroke-width="0.6" stroke-linejoin="round" textLength="33" lengthAdjust="spacingAndGlyphs">6.0</text><circle cx="65.6" cy="21.8" r="4.9" fill="#000"/><circle cx="95.2" cy="21.8" r="4.9" fill="#000"/><circle cx="233.6" cy="21.8" r="4.9" fill="#000"/><circle cx="204.1" cy="22.4" r="19.7" fill="none" stroke="#000" stroke-width="2.2"/><circle cx="203.8" cy="21.8" r="5" fill="#fff"/><text x="53.6" y="36.3" font-size="10" fill="#fff" textLength="24.4" lengthAdjust="spacingAndGlyphs">POWER</text><text x="84.9" y="36.3" font-size="10" fill="#fff" textLength="21" lengthAdjust="spacingAndGlyphs">SLEEP</text><text x="193.9" y="36.3" font-size="10" fill="#fff" textLength="19.4" lengthAdjust="spacingAndGlyphs">TIMER</text><text x="227.5" y="36.3" font-size="10" fill="#fff" textLength="13.4" lengthAdjust="spacingAndGlyphs">RUN</text></g><text x="488.7" y="395.7" font-size="19.2" fill="#000" font-weight="400" stroke="#000" stroke-width="0.3" stroke-linejoin="round" textLength="224.6" lengthAdjust="spacingAndGlyphs">экран внутреннего блока</text><g class="lcd-remote" transform="translate(438.9 433.9) scale(0.8084 0.8099)"><rect x="0.5" y="0.5" width="94" height="120" rx="9" fill="#b1b1b1" stroke="#858585" stroke-width="1"/><rect x="5.2" y="6.4" width="84.6" height="99.8" rx="6.5" fill="#ececec" stroke="#fff" stroke-width="1.8"/><use href="#s-feel" transform="translate(18 18.3)" color="#b1b1b1"/><use href="#s-snow" transform="translate(31.4 18.3)" color="#000"/><use href="#s-fan" transform="translate(47.2 18.3)" color="#b1b1b1"/><use href="#s-drop" transform="translate(62.4 18.5)" color="#b1b1b1"/><use href="#s-sun" transform="translate(76.2 18.3)" color="#b1b1b1"/><use href="#s-heart" transform="translate(18 32.9)" color="#b1b1b1"/><use href="#s-moon" transform="translate(31.4 32.9)" color="#b1b1b1"/><use href="#s-swv" transform="translate(47.2 32.9)" color="#b1b1b1"/><use href="#s-swh" transform="translate(62.4 32.9)" color="#b1b1b1"/><use href="#s-louv" transform="translate(75.2 32.9)" color="#b1b1b1"/><path d="M11.9 39.7H83.7M11.9 81.6H83.7" stroke="#b1b1b1" stroke-width="0.9" fill="none"/><path d="M11.6 43.6H14.8L13.2 46Z" fill="#000"/><text x="11" y="77.1" font-size="45.6" fill="#000" font-weight="400" font-style="italic" stroke="#000" stroke-width="0.9" stroke-linejoin="round" textLength="36.8" lengthAdjust="spacingAndGlyphs">26</text><circle cx="52" cy="46.2" r="0.8" fill="none" stroke="#000" stroke-width="0.5"/><text x="52.6" y="53.5" font-size="11.4" fill="#000" font-style="italic" textLength="6.4" lengthAdjust="spacingAndGlyphs">C</text><circle cx="51" cy="57.6" r="0.8" fill="none" stroke="#b1b1b1" stroke-width="0.5"/><text x="51.6" y="65.1" font-size="11.4" fill="#b1b1b1" font-weight="400" font-style="italic" textLength="6" lengthAdjust="spacingAndGlyphs">F</text><text x="49.2" y="76.7" font-size="13" fill="#b1b1b1" font-weight="400" font-style="italic" textLength="6" lengthAdjust="spacingAndGlyphs">h</text><use href="#s-tree" transform="translate(65.5 49.9)" color="#b1b1b1"/><use href="#s-gear" transform="translate(65.5 60.8)" color="#b1b1b1"/><use href="#s-flame" transform="translate(65.5 72.4)" color="#b1b1b1"/><use href="#s-heat" transform="translate(78.2 72.4)" color="#b1b1b1"/><path d="M71.8 45.3H82.3V47.08H72.38Z" fill="#b1b1b1"/><path d="M72.61 47.77H82.3V49.56H73.2Z" fill="#b1b1b1"/><path d="M73.42 50.25H82.3V52.03H74.01Z" fill="#b1b1b1"/><path d="M74.24 52.72H82.3V54.51H74.82Z" fill="#000"/><path d="M75.05 55.2H82.3V56.98H75.63Z" fill="#000"/><path d="M75.86 57.67H82.3V59.46H76.45Z" fill="#000"/><path d="M76.67 60.15H82.3V61.93H77.26Z" fill="#000"/><path d="M77.49 62.62H82.3V64.41H78.07Z" fill="#000"/><use href="#s-eco" transform="translate(15.3 93.1)" color="#b1b1b1"/><use href="#i-clocks" transform="translate(28.4 92.8)" color="#000"/><text x="36.4" y="91.3" font-size="6.6" fill="#000" textLength="7.8" lengthAdjust="spacingAndGlyphs">ON</text><text x="35.2" y="99.2" font-size="6.6" fill="#000" textLength="9.4" lengthAdjust="spacingAndGlyphs">OFF</text><text x="52.6" y="99.9" font-size="18.2" fill="#000" font-weight="400" font-style="italic" stroke="#000" stroke-width="0.25" stroke-linejoin="round" textLength="31" lengthAdjust="spacingAndGlyphs">12:10</text></g><g class="lcd-remote" transform="translate(537.5 435.1) scale(0.8063 0.8074)"><rect x="0.5" y="0.5" width="94" height="120" rx="9" fill="#b1b1b1" stroke="#858585" stroke-width="1"/><rect x="5.2" y="6.4" width="84.6" height="99.8" rx="6.5" fill="#ececec" stroke="#fff" stroke-width="1.8"/><use href="#s-feel" transform="translate(18 18.3)" color="#b1b1b1"/><use href="#s-fanc" transform="translate(31.4 18.3)" color="#000"/><use href="#s-fan" transform="translate(47.2 18.3)" color="#b1b1b1"/><use href="#s-drop" transform="translate(62.4 18.5)" color="#b1b1b1"/><use href="#s-sun" transform="translate(76.2 18.3)" color="#b1b1b1"/><use href="#s-heart" transform="translate(18 32.9)" color="#b1b1b1"/><use href="#s-moon" transform="translate(31.4 32.9)" color="#b1b1b1"/><use href="#s-swv" transform="translate(47.2 32.9)" color="#b1b1b1"/><use href="#s-swh" transform="translate(62.4 32.9)" color="#b1b1b1"/><use href="#s-louv" transform="translate(75.2 32.9)" color="#b1b1b1"/><path d="M11.9 39.7H83.7M11.9 81.6H83.7" stroke="#b1b1b1" stroke-width="0.9" fill="none"/><path d="M11.6 43.6H14.8L13.2 46Z" fill="#000"/><text x="11" y="77.1" font-size="45.6" fill="#000" font-weight="400" font-style="italic" stroke="#000" stroke-width="0.9" stroke-linejoin="round" textLength="36.8" lengthAdjust="spacingAndGlyphs">26</text><circle cx="52" cy="46.2" r="0.8" fill="none" stroke="#000" stroke-width="0.5"/><text x="52.6" y="53.5" font-size="11.4" fill="#000" font-style="italic" textLength="6.4" lengthAdjust="spacingAndGlyphs">C</text><circle cx="51" cy="57.6" r="0.8" fill="none" stroke="#b1b1b1" stroke-width="0.5"/><text x="51.6" y="65.1" font-size="11.4" fill="#b1b1b1" font-weight="400" font-style="italic" textLength="6" lengthAdjust="spacingAndGlyphs">F</text><text x="49.2" y="76.7" font-size="13" fill="#b1b1b1" font-weight="400" font-style="italic" textLength="6" lengthAdjust="spacingAndGlyphs">h</text><use href="#s-tree" transform="translate(65.5 49.9)" color="#b1b1b1"/><use href="#s-gear" transform="translate(65.5 60.8)" color="#b1b1b1"/><use href="#s-flame" transform="translate(65.5 72.4)" color="#b1b1b1"/><use href="#s-heat" transform="translate(78.2 72.4)" color="#b1b1b1"/><path d="M71.8 45.3H82.3V47.08H72.38Z" fill="#b1b1b1"/><path d="M72.61 47.77H82.3V49.56H73.2Z" fill="#b1b1b1"/><path d="M73.42 50.25H82.3V52.03H74.01Z" fill="#b1b1b1"/><path d="M74.24 52.72H82.3V54.51H74.82Z" fill="#000"/><path d="M75.05 55.2H82.3V56.98H75.63Z" fill="#000"/><path d="M75.86 57.67H82.3V59.46H76.45Z" fill="#000"/><path d="M76.67 60.15H82.3V61.93H77.26Z" fill="#000"/><path d="M77.49 62.62H82.3V64.41H78.07Z" fill="#000"/><use href="#s-eco" transform="translate(15.3 93.1)" color="#b1b1b1"/><use href="#i-clocks" transform="translate(28.4 92.8)" color="#000"/><text x="36.4" y="91.3" font-size="6.6" fill="#000" textLength="7.8" lengthAdjust="spacingAndGlyphs">ON</text><text x="35.2" y="99.2" font-size="6.6" fill="#000" textLength="9.4" lengthAdjust="spacingAndGlyphs">OFF</text><text x="52.6" y="99.9" font-size="18.2" fill="#000" font-weight="400" font-style="italic" stroke="#000" stroke-width="0.25" stroke-linejoin="round" textLength="31" lengthAdjust="spacingAndGlyphs">12:40</text></g><g class="lcd-remote" transform="translate(665.3 435.3) scale(0.8042 0.8116)"><rect x="0.5" y="0.5" width="94" height="120" rx="9" fill="#b1b1b1" stroke="#858585" stroke-width="1"/><rect x="5.2" y="6.4" width="84.6" height="99.8" rx="6.5" fill="#ececec" stroke="#fff" stroke-width="1.8"/><use href="#s-feel" transform="translate(18 18.3)" color="#b1b1b1"/><use href="#s-snow" transform="translate(31.4 18.3)" color="#000"/><use href="#s-fan" transform="translate(47.2 18.3)" color="#b1b1b1"/><use href="#s-drop" transform="translate(62.4 18.5)" color="#b1b1b1"/><use href="#s-sun" transform="translate(76.2 18.3)" color="#b1b1b1"/><use href="#s-heart" transform="translate(18 32.9)" color="#b1b1b1"/><use href="#s-moon" transform="translate(31.4 32.9)" color="#b1b1b1"/><use href="#s-swv" transform="translate(47.2 32.9)" color="#b1b1b1"/><use href="#s-swh" transform="translate(62.4 32.9)" color="#b1b1b1"/><use href="#s-louv" transform="translate(75.2 32.9)" color="#b1b1b1"/><path d="M11.9 39.7H83.7M11.9 81.6H83.7" stroke="#b1b1b1" stroke-width="0.9" fill="none"/><path d="M11.6 43.6H14.8L13.2 46Z" fill="#000"/><text x="11" y="77.1" font-size="45.6" fill="#000" font-weight="400" font-style="italic" stroke="#000" stroke-width="0.9" stroke-linejoin="round" textLength="36.8" lengthAdjust="spacingAndGlyphs">26</text><circle cx="52" cy="46.2" r="0.8" fill="none" stroke="#000" stroke-width="0.5"/><text x="52.6" y="53.5" font-size="11.4" fill="#000" font-style="italic" textLength="6.4" lengthAdjust="spacingAndGlyphs">C</text><circle cx="51" cy="57.6" r="0.8" fill="none" stroke="#b1b1b1" stroke-width="0.5"/><text x="51.6" y="65.1" font-size="11.4" fill="#b1b1b1" font-weight="400" font-style="italic" textLength="6" lengthAdjust="spacingAndGlyphs">F</text><text x="49.2" y="76.7" font-size="13" fill="#b1b1b1" font-weight="400" font-style="italic" textLength="6" lengthAdjust="spacingAndGlyphs">h</text><use href="#s-tree" transform="translate(65.5 49.9)" color="#b1b1b1"/><use href="#s-gear" transform="translate(65.5 60.8)" color="#b1b1b1"/><use href="#s-flame" transform="translate(65.5 72.4)" color="#b1b1b1"/><use href="#s-heat" transform="translate(78.2 72.4)" color="#b1b1b1"/><path d="M71.8 45.3H82.3V47.08H72.38Z" fill="#b1b1b1"/><path d="M72.61 47.77H82.3V49.56H73.2Z" fill="#b1b1b1"/><path d="M73.42 50.25H82.3V52.03H74.01Z" fill="#b1b1b1"/><path d="M74.24 52.72H82.3V54.51H74.82Z" fill="#000"/><path d="M75.05 55.2H82.3V56.98H75.63Z" fill="#000"/><path d="M75.86 57.67H82.3V59.46H76.45Z" fill="#000"/><path d="M76.67 60.15H82.3V61.93H77.26Z" fill="#000"/><path d="M77.49 62.62H82.3V64.41H78.07Z" fill="#000"/><use href="#s-eco" transform="translate(15.3 93.1)" color="#b1b1b1"/><use href="#i-clocks" transform="translate(28.4 92.8)" color="#000"/><text x="36.4" y="91.3" font-size="6.6" fill="#000" textLength="7.8" lengthAdjust="spacingAndGlyphs">ON</text><text x="35.2" y="99.2" font-size="6.6" fill="#000" textLength="9.4" lengthAdjust="spacingAndGlyphs">OFF</text><text x="52.6" y="99.9" font-size="18.2" fill="#000" font-weight="400" font-style="italic" stroke="#000" stroke-width="0.25" stroke-linejoin="round" textLength="31" lengthAdjust="spacingAndGlyphs">18:10</text></g><path d="M520.2 482.5H527.7" stroke="#000" stroke-width="1.2" fill="none"/><path d="M526.8 477.5L536 482.5L526.8 487.5Z" fill="#000"/><path d="M617.2 482.5H624.7" stroke="#000" stroke-width="1.2" fill="none"/><path d="M623.8 477.5L633 482.5L623.8 487.5Z" fill="#000"/><path d="M638.2 482.5l1.6 -1.6l1.6 1.6l-1.6 1.6z" fill="#000"/><path d="M646.6 482.5l1.6 -1.6l1.6 1.6l-1.6 1.6z" fill="#000"/><path d="M654.9 482.5l1.6 -1.6l1.6 1.6l-1.6 1.6z" fill="#000"/><g class="indoor" transform="translate(433.7 563.2) scale(1.0000 1.0171)"><rect width="304" height="41" fill="#8a8a8a"/><rect x="114.8" y="4.9" width="61" height="31.2" fill="#000"/><text x="136.8" y="33.3" font-size="33.2" fill="#fff" font-weight="400" font-style="italic" stroke="#fff" stroke-width="0.6" stroke-linejoin="round" textLength="33" lengthAdjust="spacingAndGlyphs">6.0</text><circle cx="65.6" cy="21.8" r="4.9" fill="#000"/><circle cx="95.2" cy="21.8" r="4.9" fill="#000"/><circle cx="233.6" cy="21.8" r="4.9" fill="#000"/><circle cx="204.1" cy="22.4" r="19.7" fill="none" stroke="#000" stroke-width="2.2"/><circle cx="203.8" cy="21.8" r="5" fill="#fff"/><text x="53.6" y="36.3" font-size="10" fill="#fff" textLength="24.4" lengthAdjust="spacingAndGlyphs">POWER</text><text x="84.9" y="36.3" font-size="10" fill="#fff" textLength="21" lengthAdjust="spacingAndGlyphs">SLEEP</text><text x="193.9" y="36.3" font-size="10" fill="#fff" textLength="19.4" lengthAdjust="spacingAndGlyphs">TIMER</text><text x="227.5" y="36.3" font-size="10" fill="#fff" textLength="13.4" lengthAdjust="spacingAndGlyphs">RUN</text></g><text x="526.2" y="624" font-size="19.2" fill="#000" font-weight="400" stroke="#000" stroke-width="0.3" stroke-linejoin="round" textLength="163.6" lengthAdjust="spacingAndGlyphs">комнатный дисплей</text></g>
<g class="mode-box fan"><rect x="91.5" y="706.5" width="77" height="58" fill="#fff" stroke="#2a2a2a" stroke-width="1.05"/><text x="99.4" y="725.7" font-size="16.6" fill="#000" textLength="29.1" lengthAdjust="spacingAndGlyphs">FAN</text><rect x="141.9" y="714.3" width="11.4" height="10.8" fill="#000"/><use href="#i-fan" transform="translate(147 747.1) scale(1.63)" color="#000"/></g>
<g class="figure fan"><text x="467" y="720.9" font-size="14" fill="#000" textLength="25.3" lengthAdjust="spacingAndGlyphs">FAN</text><rect x="499.2" y="711.2" width="9" height="8.8" fill="#000"/><g class="lcd-wide"><g transform="translate(434.1 735.8) scale(1.0180 1.0099)"><rect width="150" height="81" rx="4.5" fill="#b1b1b1"/><rect x="32" y="7.4" width="94" height="60.4" rx="2.5" fill="#ececec"/><text x="6.9" y="16.3" font-size="9.8" fill="#fff" textLength="21.3" lengthAdjust="spacingAndGlyphs">FEEL</text><text x="4.7" y="27.8" font-size="9.8" fill="#fff" textLength="23.5" lengthAdjust="spacingAndGlyphs">COOL</text><text x="10.5" y="40.5" font-size="9.8" fill="#fff" textLength="17.7" lengthAdjust="spacingAndGlyphs">DRY</text><text x="11.75" y="53.4" font-size="9.8" fill="#fff" textLength="16.45" lengthAdjust="spacingAndGlyphs">FAN</text><text x="7.6" y="65.2" font-size="9.8" fill="#fff" textLength="20.6" lengthAdjust="spacingAndGlyphs">HEAT</text><text x="128.7" y="11.75" font-size="9.6" fill="#fff" textLength="11.2" lengthAdjust="spacingAndGlyphs">FAN</text><text x="128.7" y="23.3" font-size="9.6" fill="#fff" textLength="19.7" lengthAdjust="spacingAndGlyphs">SPEED</text><text x="128.7" y="38.4" font-size="9.6" fill="#fff" textLength="10" lengthAdjust="spacingAndGlyphs">AIR</text><text x="128.7" y="50.2" font-size="9.6" fill="#fff" textLength="19.7" lengthAdjust="spacingAndGlyphs">SWING</text><text x="44.3" y="77.2" font-size="9.4" fill="#fff" textLength="38.2" lengthAdjust="spacingAndGlyphs">HEALTHY</text><text x="94.9" y="77.2" font-size="9.4" fill="#fff" textLength="25.8" lengthAdjust="spacingAndGlyphs">TIMER</text><rect x="34.9" y="11" width="5.3" height="5" fill="#b1b1b1"/><rect x="34.9" y="22.8" width="5.3" height="5" fill="#b1b1b1"/><rect x="34.9" y="34.8" width="5.3" height="5" fill="#b1b1b1"/><rect x="34.9" y="46.9" width="5.3" height="5" fill="#000"/><rect x="34.9" y="59.2" width="5.3" height="5" fill="#b1b1b1"/><text x="43.6" y="38.6" font-size="39.6" fill="#b1b1b1" font-weight="400" font-style="italic" stroke="#b1b1b1" stroke-width="0.25" stroke-linejoin="round" textLength="31.8" lengthAdjust="spacingAndGlyphs">26</text><path d="M77.6 28.6L79.8 24.1L82 28.6Z" fill="#000"/><text x="77.3" y="38.4" font-size="8.6" fill="#b1b1b1" textLength="5.2" lengthAdjust="spacingAndGlyphs">C</text><circle cx="76.5" cy="31.6" r="0.8" fill="none" stroke="#b1b1b1" stroke-width="0.5"/><rect x="103.1" y="13.6" width="3.8" height="3.2" fill="#000"/><rect x="107.7" y="12.8" width="3.8" height="4" fill="#000"/><rect x="111.9" y="11.9" width="3.8" height="4.9" fill="#000"/><rect x="116.1" y="11" width="3.8" height="5.8" fill="#000"/><rect x="120.7" y="10.2" width="3.8" height="6.6" fill="#b1b1b1"/><text x="88.4" y="23.9" font-size="7" fill="#b1b1b1" font-weight="400" textLength="30" lengthAdjust="spacingAndGlyphs">AUTOQUIET</text><text x="88.4" y="30.6" font-size="7" fill="#b1b1b1" font-weight="400" textLength="29.4" lengthAdjust="spacingAndGlyphs">POWERFUL</text><path d="M124.94 39.09L125.67 51.07L121.71 50.86L123.69 39.02Z" fill="#b1b1b1"/><path d="M123.13 38.9L119.92 50.46L116.25 48.98L121.98 38.43Z" fill="#b1b1b1"/><path d="M121.48 38.13L114.69 48.02L111.7 45.42L120.54 37.32Z" fill="#b1b1b1"/><path d="M120.18 36.87L110.53 44.01L108.55 40.58L119.56 35.79Z" fill="#b1b1b1"/><path d="M119.35 35.25L107.91 38.86L107.15 34.97L119.12 34.03Z" fill="#b1b1b1"/><path d="M124.6 34.2h-6l6 6z" fill="#b1b1b1"/><text x="86.8" y="53.5" font-size="13" fill="#b1b1b1" font-weight="400" font-style="italic" stroke="#b1b1b1" stroke-width="0.3" stroke-linejoin="round" textLength="14" lengthAdjust="spacingAndGlyphs">6.0</text><text x="102.5" y="48.2" font-size="7.6" fill="#b1b1b1" textLength="6.5" lengthAdjust="spacingAndGlyphs">hr</text><text x="103.1" y="54.7" font-size="7" fill="#b1b1b1" font-weight="400" textLength="18.2" lengthAdjust="spacingAndGlyphs">DELAY</text><path d="M68.4 58H81V65.8H66.1Z" fill="#b1b1b1"/><text x="73.9" y="63.9" font-size="5" fill="#ececec" text-anchor="middle">ON</text><path d="M87 58H100.7L103.1 65.8H87Z" fill="#b1b1b1"/><text x="94.2" y="63.9" font-size="5" fill="#ececec" text-anchor="middle" textLength="8.4" lengthAdjust="spacingAndGlyphs">OFF</text><path d="M111.3 58H124.3V65.8H109Z" fill="#b1b1b1"/><text x="117.3" y="63.9" font-size="5" fill="#ececec" text-anchor="middle">ON</text></g><path d="M476.5 745.9V802.25M520.5 777.31V802.25" stroke="#000" stroke-width="1.15" fill="none"/></g><path d="M494.8 721.7L473.1 785" stroke="#000" stroke-width="0.85" fill="none"/><g class="lcd-main"><g transform="translate(594.9 734.3) scale(1.0068 1.0010)"><rect width="147.3" height="101.7" rx="6" fill="#b1b1b1"/><rect x="16" y="11" width="115.8" height="79.9" rx="5.5" fill="#ececec"/><use href="#i-tri" transform="translate(25.6 21.4)" color="#b1b1b1"/><use href="#i-snow" transform="translate(49.2 21.6)" color="#b1b1b1"/><use href="#i-drop" transform="translate(71.9 21.8)" color="#b1b1b1"/><use href="#i-fan" transform="translate(95.1 21.8)" color="#000"/><use href="#i-sun" transform="translate(118.7 21.6)" color="#b1b1b1"/><use href="#i-wifi" transform="translate(34.8 38.3)" color="#000"/><text x="39.6" y="69.4" font-size="46.4" fill="#b1b1b1" font-weight="400" font-style="italic" stroke="#b1b1b1" stroke-width="0.35" stroke-linejoin="round" textLength="44" lengthAdjust="spacingAndGlyphs">26</text><circle cx="91.5" cy="37.5" r="1" fill="none" stroke="#b1b1b1" stroke-width="0.5"/><text x="92.2" y="50.4" font-size="15" fill="#b1b1b1" font-weight="400" font-style="italic" textLength="10" lengthAdjust="spacingAndGlyphs">C</text><text x="92" y="69.3" font-size="20" fill="#b1b1b1" font-weight="400" font-style="italic" textLength="10" lengthAdjust="spacingAndGlyphs">h</text><use href="#i-clockf" transform="translate(119.4 42.4)" color="#b1b1b1"/><use href="#i-clocko" transform="translate(119.7 60.8)" color="#b1b1b1"/><use href="#i-swirl" transform="translate(24.5 80.66)" color="#b1b1b1"/><use href="#i-fan3" transform="translate(42.4 80.86)" color="#b1b1b1"/><use href="#i-fan4" transform="translate(60.1 80.66)" color="#000"/><use href="#i-fan6" transform="translate(77.9 80.86)" color="#b1b1b1"/><use href="#i-moon" transform="translate(97.8 80.86)" color="#b1b1b1"/><use href="#i-swing" transform="translate(118.3 80.86)" color="#b1b1b1"/></g><path d="M611.01 766.5H727.59M611.01 806.5H727.59M704.5 766.5V806.5" stroke="#000" stroke-width="1.05" fill="none"/></g><use href="#i-fan" transform="translate(645.3 712.7) scale(1.05)" color="#000"/><path d="M650.9 720.9L685.5 750.9" stroke="#000" stroke-width="0.85" fill="none"/><g class="lcd-remote" transform="translate(440.2 844.2) scale(0.9926 0.9959)"><rect x="0.5" y="0.5" width="94" height="120" rx="9" fill="#b1b1b1" stroke="#858585" stroke-width="1"/><rect x="5.2" y="6.4" width="84.6" height="99.8" rx="6.5" fill="#ececec" stroke="#fff" stroke-width="1.8"/><use href="#s-feel" transform="translate(18 18.3)" color="#b1b1b1"/><use href="#s-snow" transform="translate(31.4 18.3)" color="#b1b1b1"/><use href="#s-fan" transform="translate(47.2 18.3)" color="#000"/><use href="#s-drop" transform="translate(62.4 18.5)" color="#b1b1b1"/><use href="#s-sun" transform="translate(76.2 18.3)" color="#b1b1b1"/><use href="#s-heart" transform="translate(18 32.9)" color="#b1b1b1"/><use href="#s-moon" transform="translate(31.4 32.9)" color="#b1b1b1"/><use href="#s-swv" transform="translate(47.2 32.9)" color="#b1b1b1"/><use href="#s-swh" transform="translate(62.4 32.9)" color="#b1b1b1"/><use href="#s-louv" transform="translate(75.2 32.9)" color="#b1b1b1"/><path d="M11.9 39.7H83.7M11.9 81.6H83.7" stroke="#b1b1b1" stroke-width="0.9" fill="none"/><path d="M11.6 43.6H14.8L13.2 46Z" fill="#000"/><text x="11" y="77.1" font-size="45.6" fill="#b1b1b1" font-weight="400" font-style="italic" stroke="#b1b1b1" stroke-width="0.35" stroke-linejoin="round" textLength="36.8" lengthAdjust="spacingAndGlyphs">26</text><circle cx="52" cy="46.2" r="0.8" fill="none" stroke="#b1b1b1" stroke-width="0.5"/><text x="52.6" y="53.5" font-size="11.4" fill="#b1b1b1" font-weight="400" font-style="italic" textLength="6.4" lengthAdjust="spacingAndGlyphs">C</text><circle cx="51" cy="57.6" r="0.8" fill="none" stroke="#b1b1b1" stroke-width="0.5"/><text x="51.6" y="65.1" font-size="11.4" fill="#b1b1b1" font-weight="400" font-style="italic" textLength="6" lengthAdjust="spacingAndGlyphs">F</text><text x="49.2" y="76.7" font-size="13" fill="#b1b1b1" font-weight="400" font-style="italic" textLength="6" lengthAdjust="spacingAndGlyphs">h</text><use href="#s-tree" transform="translate(65.5 49.9)" color="#b1b1b1"/><use href="#s-gear" transform="translate(65.5 60.8)" color="#b1b1b1"/><use href="#s-flame" transform="translate(65.5 72.4)" color="#b1b1b1"/><use href="#s-heat" transform="translate(78.2 72.4)" color="#b1b1b1"/><path d="M71.8 45.3H82.3V47.08H72.38Z" fill="#b1b1b1"/><path d="M72.61 47.77H82.3V49.56H73.2Z" fill="#b1b1b1"/><path d="M73.42 50.25H82.3V52.03H74.01Z" fill="#b1b1b1"/><path d="M74.24 52.72H82.3V54.51H74.82Z" fill="#000"/><path d="M75.05 55.2H82.3V56.98H75.63Z" fill="#000"/><path d="M75.86 57.67H82.3V59.46H76.45Z" fill="#000"/><path d="M76.67 60.15H82.3V61.93H77.26Z" fill="#000"/><path d="M77.49 62.62H82.3V64.41H78.07Z" fill="#000"/><use href="#s-eco" transform="translate(15.3 93.1)" color="#b1b1b1"/><use href="#i-clocks" transform="translate(28.4 92.8)" color="#b1b1b1"/><text x="36.4" y="91.3" font-size="6.6" fill="#b1b1b1" font-weight="400" textLength="7.8" lengthAdjust="spacingAndGlyphs">ON</text><text x="35.2" y="99.2" font-size="6.6" fill="#b1b1b1" font-weight="400" textLength="9.4" lengthAdjust="spacingAndGlyphs">OFF</text><text x="48" y="100.1" font-size="19.4" fill="#b1b1b1" font-weight="400" font-style="italic" stroke="#b1b1b1" stroke-width="0.3" stroke-linejoin="round" textLength="35.6" lengthAdjust="spacingAndGlyphs">88:88</text></g><use href="#i-fan" transform="translate(516.7 830) scale(1.05)" color="#000"/><path d="M506.9 837.1L489.4 858" stroke="#000" stroke-width="0.85" fill="none"/><g class="keypad"><rect x="601.5" y="853.5" width="139" height="110" fill="#fff"/><rect x="611.5" y="853.5" width="121" height="110" fill="#e9e9e9"/><path d="M601.5 853.5H740.5V963.5H601.5ZM611.5 853.5V963.5M732.5 853.5V963.5" fill="none" stroke="#000" stroke-width="1.05"/><path d="M601.5 854.5H740.5" stroke="#000" stroke-width="1" fill="none"/><g class="keys" transform="translate(601.4 853.7) scale(1.0080 1.0120)"><rect x="21" y="15" width="24.5" height="13.8" rx="6.6" fill="#b1b1b1" stroke="#000" stroke-width="0.9"/><path d="M63.6 14.6H81.8Q84 15 82.6 17L73.6 28.6Q72.5 29.8 71.4 28.6L62.8 17Q61.6 15 63.6 14.6Z" fill="#fff" stroke="#000" stroke-width="0.9"/><path d="M95.2 29.9H112.6Q114.6 29.4 113.4 27.6L104.8 15.6Q103.8 14.4 102.8 15.6L94.4 27.6Q93.2 29.4 95.2 29.9Z" fill="#fff" stroke="#000" stroke-width="0.9"/><rect x="21" y="42.3" width="24.5" height="12.2" rx="6.1" fill="#fff" stroke="#000" stroke-width="0.9"/><rect x="57.9" y="42.3" width="24.5" height="12.2" rx="6.1" fill="#fff" stroke="#000" stroke-width="0.9"/><rect x="94.6" y="42.3" width="24.5" height="12.2" rx="6.1" fill="#fff" stroke="#000" stroke-width="0.9"/><rect x="21" y="66.6" width="24.5" height="12.2" rx="6.1" fill="#fff" stroke="#000" stroke-width="0.9"/><rect x="57.9" y="66.6" width="24.5" height="12.2" rx="6.1" fill="#fff" stroke="#000" stroke-width="0.9"/><rect x="94.6" y="66.6" width="24.5" height="12.2" rx="6.1" fill="#fff" stroke="#000" stroke-width="0.9"/><rect x="21" y="91.1" width="24.5" height="12.2" rx="6.1" fill="#fff" stroke="#000" stroke-width="0.9"/><rect x="57.9" y="91.1" width="24.5" height="12.2" rx="6.1" fill="#fff" stroke="#000" stroke-width="0.9"/><rect x="94.6" y="91.1" width="24.5" height="12.2" rx="6.1" fill="#fff" stroke="#000" stroke-width="0.9"/><text x="32.7" y="10.2" font-size="7.4" fill="#000" text-anchor="middle" textLength="24.6" lengthAdjust="spacingAndGlyphs">ON/OFF</text><text x="33.3" y="39.2" font-size="7.4" fill="#000" text-anchor="middle" textLength="19.6" lengthAdjust="spacingAndGlyphs">MODE</text><text x="72.9" y="39.2" font-size="7.4" fill="#000" text-anchor="middle" textLength="20.2" lengthAdjust="spacingAndGlyphs">TIMER</text><text x="106.4" y="39.2" font-size="7.4" fill="#000" text-anchor="middle" textLength="32.4" lengthAdjust="spacingAndGlyphs">ANTI-MILDEW</text><text x="31.7" y="64.3" font-size="7.4" fill="#000" text-anchor="middle" textLength="37" lengthAdjust="spacingAndGlyphs">FAN SPEED</text><text x="71.4" y="64.3" font-size="7.4" fill="#000" text-anchor="middle" textLength="22.6" lengthAdjust="spacingAndGlyphs">SUPER</text><text x="110.1" y="64.3" font-size="7.4" fill="#000" text-anchor="middle" textLength="14" lengthAdjust="spacingAndGlyphs">ECO</text><text x="32.7" y="88.8" font-size="7.4" fill="#000" text-anchor="middle" textLength="22.2" lengthAdjust="spacingAndGlyphs">SWING</text><text x="72.5" y="88.8" font-size="7.4" fill="#000" text-anchor="middle" textLength="21.6" lengthAdjust="spacingAndGlyphs">SLEEP</text><text x="107.8" y="88.8" font-size="7.4" fill="#000" text-anchor="middle" textLength="30" lengthAdjust="spacingAndGlyphs">HEALTHY</text><path d="M27.1 46.7C26.93 45.87 25.8 44.75 24.2 43.9C22.6 43.05 19.72 42.23 17.5 41.6C15.28 40.97 12.78 40.75 10.9 40.1C9.02 39.45 7.93 38.25 6.2 37.7C4.47 37.15 2.48 36.88 0.5 36.8C-1.48 36.72 -3.87 36.88 -5.7 37.2C-7.53 37.52 -8.92 38.42 -10.5 38.7C-12.08 38.98 -13.93 38.43 -15.2 38.9C-16.47 39.37 -17.47 40.43 -18.1 41.5C-18.73 42.57 -19 44.03 -19 45.3C-19 46.57 -18.97 47.92 -18.1 49.1C-17.23 50.28 -15.07 51.22 -13.8 52.4C-12.53 53.58 -12.08 55.08 -10.5 56.2C-8.92 57.32 -6.28 58.3 -4.3 59.1C-2.32 59.9 -0.18 60.85 1.4 61C2.98 61.15 4.02 60.55 5.2 60C6.38 59.45 7.38 58.4 8.5 57.7C9.62 57 11.1 56.52 11.9 55.8C12.7 55.08 13.23 54.12 13.3 53.4C13.37 52.68 12.15 52.22 12.3 51.5C12.45 50.78 13.8 49.82 14.2 49.1C14.6 48.38 13.67 47.32 14.7 47.2C15.73 47.08 18.65 48.12 20.4 48.4C22.15 48.68 24.08 49.18 25.2 48.9C26.32 48.62 27.27 47.53 27.1 46.7Z" fill="#fff" stroke="#000" stroke-width="1.15" stroke-linejoin="round"/><path d="M10 45.6L14.4 46.9M8.4 50.9L12.4 51.4" fill="none" stroke="#000" stroke-width="0.9"/></g></g><text x="562.3" y="931.8" font-family="Liberation Serif,serif" font-size="11.6" font-weight="700" stroke="#000" stroke-width="0.12" fill="#000">3</text><path d="M570.3 929.5L633.8 929.5" stroke="#000" stroke-width="0.95" fill="none"/></g>
<g class="mode-box dry"><rect x="930.5" y="75.5" width="76" height="58" fill="#fff" stroke="#2a2a2a" stroke-width="1.05"/><text x="937.1" y="94.2" font-size="16.6" fill="#000" textLength="32" lengthAdjust="spacingAndGlyphs">DRY</text><rect x="981.4" y="82.8" width="11.9" height="11.4" fill="#000"/><use href="#i-drop" transform="translate(986.5 112.9) scale(1.56)" color="#000"/></g>
<g class="figure dry"><text x="1307.4" y="90.7" font-size="14" fill="#000" textLength="25.7" lengthAdjust="spacingAndGlyphs">DRY</text><rect x="1337.3" y="81.2" width="8.9" height="8.3" fill="#000"/><g class="lcd-wide"><g transform="translate(1272.6 104.8) scale(1.0160 1.0086)"><rect width="150" height="81" rx="4.5" fill="#b1b1b1"/><rect x="32" y="7.4" width="94" height="60.4" rx="2.5" fill="#ececec"/><text x="6.9" y="16.3" font-size="9.8" fill="#fff" textLength="21.3" lengthAdjust="spacingAndGlyphs">FEEL</text><text x="4.7" y="27.8" font-size="9.8" fill="#fff" textLength="23.5" lengthAdjust="spacingAndGlyphs">COOL</text><text x="10.5" y="40.5" font-size="9.8" fill="#fff" textLength="17.7" lengthAdjust="spacingAndGlyphs">DRY</text><text x="11.75" y="53.4" font-size="9.8" fill="#fff" textLength="16.45" lengthAdjust="spacingAndGlyphs">FAN</text><text x="7.6" y="65.2" font-size="9.8" fill="#fff" textLength="20.6" lengthAdjust="spacingAndGlyphs">HEAT</text><text x="128.7" y="11.75" font-size="9.6" fill="#fff" textLength="11.2" lengthAdjust="spacingAndGlyphs">FAN</text><text x="128.7" y="23.3" font-size="9.6" fill="#fff" textLength="19.7" lengthAdjust="spacingAndGlyphs">SPEED</text><text x="128.7" y="38.4" font-size="9.6" fill="#fff" textLength="10" lengthAdjust="spacingAndGlyphs">AIR</text><text x="128.7" y="50.2" font-size="9.6" fill="#fff" textLength="19.7" lengthAdjust="spacingAndGlyphs">SWING</text><text x="44.3" y="77.2" font-size="9.4" fill="#fff" textLength="38.2" lengthAdjust="spacingAndGlyphs">HEALTHY</text><text x="94.9" y="77.2" font-size="9.4" fill="#fff" textLength="25.8" lengthAdjust="spacingAndGlyphs">TIMER</text><rect x="34.9" y="11" width="5.3" height="5" fill="#b1b1b1"/><rect x="34.9" y="22.8" width="5.3" height="5" fill="#b1b1b1"/><rect x="34.9" y="34.8" width="5.3" height="5" fill="#000"/><rect x="34.9" y="46.9" width="5.3" height="5" fill="#b1b1b1"/><rect x="34.9" y="59.2" width="5.3" height="5" fill="#b1b1b1"/><text x="43.6" y="38.6" font-size="39.6" fill="#b1b1b1" font-weight="400" font-style="italic" stroke="#b1b1b1" stroke-width="0.25" stroke-linejoin="round" textLength="31.8" lengthAdjust="spacingAndGlyphs">26</text><path d="M77.6 28.6L79.8 24.1L82 28.6Z" fill="#000"/><text x="77.3" y="38.4" font-size="8.6" fill="#b1b1b1" textLength="5.2" lengthAdjust="spacingAndGlyphs">C</text><circle cx="76.5" cy="31.6" r="0.8" fill="none" stroke="#b1b1b1" stroke-width="0.5"/><rect x="103.1" y="13.6" width="3.8" height="3.2" fill="#b1b1b1"/><rect x="107.7" y="12.8" width="3.8" height="4" fill="#b1b1b1"/><rect x="111.9" y="11.9" width="3.8" height="4.9" fill="#b1b1b1"/><rect x="116.1" y="11" width="3.8" height="5.8" fill="#b1b1b1"/><rect x="120.7" y="10.2" width="3.8" height="6.6" fill="#b1b1b1"/><text x="88.4" y="23.9" font-size="7" fill="#b1b1b1" font-weight="400" textLength="30" lengthAdjust="spacingAndGlyphs">AUTOQUIET</text><text x="88.4" y="30.6" font-size="7" fill="#b1b1b1" font-weight="400" textLength="29.4" lengthAdjust="spacingAndGlyphs">POWERFUL</text><path d="M124.94 39.09L125.67 51.07L121.71 50.86L123.69 39.02Z" fill="#b1b1b1"/><path d="M123.13 38.9L119.92 50.46L116.25 48.98L121.98 38.43Z" fill="#b1b1b1"/><path d="M121.48 38.13L114.69 48.02L111.7 45.42L120.54 37.32Z" fill="#b1b1b1"/><path d="M120.18 36.87L110.53 44.01L108.55 40.58L119.56 35.79Z" fill="#b1b1b1"/><path d="M119.35 35.25L107.91 38.86L107.15 34.97L119.12 34.03Z" fill="#b1b1b1"/><path d="M124.6 34.2h-6l6 6z" fill="#b1b1b1"/><text x="86.8" y="53.5" font-size="13" fill="#b1b1b1" font-weight="400" font-style="italic" stroke="#b1b1b1" stroke-width="0.3" stroke-linejoin="round" textLength="14" lengthAdjust="spacingAndGlyphs">6.0</text><text x="102.5" y="48.2" font-size="7.6" fill="#b1b1b1" textLength="6.5" lengthAdjust="spacingAndGlyphs">hr</text><text x="103.1" y="54.7" font-size="7" fill="#b1b1b1" font-weight="400" textLength="18.2" lengthAdjust="spacingAndGlyphs">DELAY</text><path d="M68.4 58H81V65.8H66.1Z" fill="#b1b1b1"/><text x="73.9" y="63.9" font-size="5" fill="#ececec" text-anchor="middle">ON</text><path d="M87 58H100.7L103.1 65.8H87Z" fill="#b1b1b1"/><text x="94.2" y="63.9" font-size="5" fill="#ececec" text-anchor="middle" textLength="8.4" lengthAdjust="spacingAndGlyphs">OFF</text><path d="M111.3 58H124.3V65.8H109Z" fill="#b1b1b1"/><text x="117.3" y="63.9" font-size="5" fill="#ececec" text-anchor="middle">ON</text></g><path d="M1314.5 114.89V171.17M1358.5 146.26V171.17" stroke="#000" stroke-width="1.15" fill="none"/></g><path d="M1332.6 91.5L1312.9 140.1" stroke="#000" stroke-width="0.85" fill="none"/><g class="lcd-main"><g transform="translate(1432.3 103.3) scale(1.0143 1.0108)"><rect width="147.3" height="101.7" rx="6" fill="#b1b1b1"/><rect x="16" y="11" width="115.8" height="79.9" rx="5.5" fill="#ececec"/><use href="#i-tri" transform="translate(25.6 21)" color="#b1b1b1"/><use href="#i-snow" transform="translate(49.2 21.2)" color="#b1b1b1"/><use href="#i-drop" transform="translate(71.9 21.4)" color="#000"/><use href="#i-fan" transform="translate(95.1 21.4)" color="#b1b1b1"/><use href="#i-sun" transform="translate(118.7 21.2)" color="#b1b1b1"/><use href="#i-wifi" transform="translate(34.8 37.9)" color="#000"/><text x="39.6" y="69" font-size="46.4" fill="#b1b1b1" font-weight="400" font-style="italic" stroke="#b1b1b1" stroke-width="0.35" stroke-linejoin="round" textLength="44" lengthAdjust="spacingAndGlyphs">26</text><circle cx="91.5" cy="37.1" r="1" fill="none" stroke="#b1b1b1" stroke-width="0.5"/><text x="92.2" y="50" font-size="15" fill="#b1b1b1" font-weight="400" font-style="italic" textLength="10" lengthAdjust="spacingAndGlyphs">C</text><text x="92" y="68.9" font-size="20" fill="#b1b1b1" font-weight="400" font-style="italic" textLength="10" lengthAdjust="spacingAndGlyphs">h</text><use href="#i-clockf" transform="translate(119.4 42)" color="#b1b1b1"/><use href="#i-clocko" transform="translate(119.7 60.4)" color="#b1b1b1"/><use href="#i-swirl" transform="translate(24.5 80.3)" color="#b1b1b1"/><use href="#i-fan3" transform="translate(42.4 80.5)" color="#b1b1b1"/><use href="#i-fan4" transform="translate(60.1 80.3)" color="#b1b1b1"/><use href="#i-fan6" transform="translate(77.9 80.5)" color="#b1b1b1"/><use href="#i-moon" transform="translate(97.8 80.5)" color="#b1b1b1"/><use href="#i-swing" transform="translate(118.3 80.5)" color="#b1b1b1"/></g><path d="M1448.53 135.5H1565.98M1448.53 175.5H1565.98M1542.5 135.5V175.5" stroke="#000" stroke-width="1.05" fill="none"/></g><use href="#i-drop" transform="translate(1482.4 83.2)" color="#000"/><path d="M1488.7 89L1504.9 120.5" stroke="#000" stroke-width="0.85" fill="none"/><g class="lcd-remote" transform="translate(1275.1 214) scale(0.9989 1.0000)"><rect x="0.5" y="0.5" width="94" height="120" rx="9" fill="#b1b1b1" stroke="#858585" stroke-width="1"/><rect x="5.2" y="6.4" width="84.6" height="99.8" rx="6.5" fill="#ececec" stroke="#fff" stroke-width="1.8"/><use href="#s-feel" transform="translate(18 18.3)" color="#b1b1b1"/><use href="#s-snow" transform="translate(31.4 18.3)" color="#b1b1b1"/><use href="#s-fan" transform="translate(47.2 18.3)" color="#b1b1b1"/><use href="#s-drop" transform="translate(62.4 18.5)" color="#000"/><use href="#s-sun" transform="translate(76.2 18.3)" color="#b1b1b1"/><use href="#s-heart" transform="translate(18 32.9)" color="#b1b1b1"/><use href="#s-moon" transform="translate(31.4 32.9)" color="#b1b1b1"/><use href="#s-swv" transform="translate(47.2 32.9)" color="#b1b1b1"/><use href="#s-swh" transform="translate(62.4 32.9)" color="#b1b1b1"/><use href="#s-louv" transform="translate(75.2 32.9)" color="#b1b1b1"/><path d="M11.9 39.7H83.7M11.9 81.6H83.7" stroke="#b1b1b1" stroke-width="0.9" fill="none"/><path d="M11.6 43.6H14.8L13.2 46Z" fill="#000"/><text x="11" y="77.1" font-size="45.6" fill="#b1b1b1" font-weight="400" font-style="italic" stroke="#b1b1b1" stroke-width="0.35" stroke-linejoin="round" textLength="36.8" lengthAdjust="spacingAndGlyphs">26</text><circle cx="52" cy="46.2" r="0.8" fill="none" stroke="#b1b1b1" stroke-width="0.5"/><text x="52.6" y="53.5" font-size="11.4" fill="#b1b1b1" font-weight="400" font-style="italic" textLength="6.4" lengthAdjust="spacingAndGlyphs">C</text><circle cx="51" cy="57.6" r="0.8" fill="none" stroke="#b1b1b1" stroke-width="0.5"/><text x="51.6" y="65.1" font-size="11.4" fill="#b1b1b1" font-weight="400" font-style="italic" textLength="6" lengthAdjust="spacingAndGlyphs">F</text><text x="49.2" y="76.7" font-size="13" fill="#b1b1b1" font-weight="400" font-style="italic" textLength="6" lengthAdjust="spacingAndGlyphs">h</text><use href="#s-tree" transform="translate(65.5 49.9)" color="#b1b1b1"/><use href="#s-gear" transform="translate(65.5 60.8)" color="#b1b1b1"/><use href="#s-flame" transform="translate(65.5 72.4)" color="#b1b1b1"/><use href="#s-heat" transform="translate(78.2 72.4)" color="#b1b1b1"/><path d="M71.8 45.3H82.3V47.08H72.38Z" fill="#b1b1b1"/><path d="M72.61 47.77H82.3V49.56H73.2Z" fill="#b1b1b1"/><path d="M73.42 50.25H82.3V52.03H74.01Z" fill="#b1b1b1"/><path d="M74.24 52.72H82.3V54.51H74.82Z" fill="#b1b1b1"/><path d="M75.05 55.2H82.3V56.98H75.63Z" fill="#b1b1b1"/><path d="M75.86 57.67H82.3V59.46H76.45Z" fill="#b1b1b1"/><path d="M76.67 60.15H82.3V61.93H77.26Z" fill="#b1b1b1"/><path d="M77.49 62.62H82.3V64.41H78.07Z" fill="#b1b1b1"/><use href="#s-eco" transform="translate(15.3 93.1)" color="#b1b1b1"/><use href="#i-clocks" transform="translate(28.4 92.8)" color="#b1b1b1"/><text x="36.4" y="91.3" font-size="6.6" fill="#b1b1b1" font-weight="400" textLength="7.8" lengthAdjust="spacingAndGlyphs">ON</text><text x="35.2" y="99.2" font-size="6.6" fill="#b1b1b1" font-weight="400" textLength="9.4" lengthAdjust="spacingAndGlyphs">OFF</text><text x="48" y="100.1" font-size="19.4" fill="#b1b1b1" font-weight="400" font-style="italic" stroke="#b1b1b1" stroke-width="0.3" stroke-linejoin="round" textLength="35.6" lengthAdjust="spacingAndGlyphs">88:88</text></g><use href="#i-drop" transform="translate(1358.5 202.6)" color="#000"/><path d="M1352.7 209.1L1337.6 232.6" stroke="#000" stroke-width="0.85" fill="none"/><g class="keypad"><rect x="1437.5" y="217.5" width="139" height="109" fill="#fff"/><rect x="1447.5" y="217.5" width="120" height="109" fill="#e9e9e9"/><path d="M1437.5 217.5H1576.5V326.5H1437.5ZM1447.5 217.5V326.5M1567.5 217.5V326.5" fill="none" stroke="#000" stroke-width="1.05"/><g class="keys" transform="translate(1437.1 217.5) scale(1.0094 1.0065)"><rect x="21" y="15" width="24.5" height="13.8" rx="6.6" fill="#b1b1b1" stroke="#000" stroke-width="0.9"/><path d="M63.6 14.6H81.8Q84 15 82.6 17L73.6 28.6Q72.5 29.8 71.4 28.6L62.8 17Q61.6 15 63.6 14.6Z" fill="#fff" stroke="#000" stroke-width="0.9"/><path d="M95.2 29.9H112.6Q114.6 29.4 113.4 27.6L104.8 15.6Q103.8 14.4 102.8 15.6L94.4 27.6Q93.2 29.4 95.2 29.9Z" fill="#fff" stroke="#000" stroke-width="0.9"/><rect x="21" y="42.3" width="24.5" height="12.2" rx="6.1" fill="#fff" stroke="#000" stroke-width="0.9"/><rect x="57.9" y="42.3" width="24.5" height="12.2" rx="6.1" fill="#fff" stroke="#000" stroke-width="0.9"/><rect x="94.6" y="42.3" width="24.5" height="12.2" rx="6.1" fill="#fff" stroke="#000" stroke-width="0.9"/><rect x="21" y="66.6" width="24.5" height="12.2" rx="6.1" fill="#fff" stroke="#000" stroke-width="0.9"/><rect x="57.9" y="66.6" width="24.5" height="12.2" rx="6.1" fill="#fff" stroke="#000" stroke-width="0.9"/><rect x="94.6" y="66.6" width="24.5" height="12.2" rx="6.1" fill="#fff" stroke="#000" stroke-width="0.9"/><rect x="21" y="91.1" width="24.5" height="12.2" rx="6.1" fill="#fff" stroke="#000" stroke-width="0.9"/><rect x="57.9" y="91.1" width="24.5" height="12.2" rx="6.1" fill="#fff" stroke="#000" stroke-width="0.9"/><rect x="94.6" y="91.1" width="24.5" height="12.2" rx="6.1" fill="#fff" stroke="#000" stroke-width="0.9"/><text x="32.7" y="10.2" font-size="7.4" fill="#000" text-anchor="middle" textLength="24.6" lengthAdjust="spacingAndGlyphs">ON/OFF</text><text x="33.3" y="39.2" font-size="7.4" fill="#000" text-anchor="middle" textLength="19.6" lengthAdjust="spacingAndGlyphs">MODE</text><text x="72.9" y="39.2" font-size="7.4" fill="#000" text-anchor="middle" textLength="20.2" lengthAdjust="spacingAndGlyphs">TIMER</text><text x="106.4" y="39.2" font-size="7.4" fill="#000" text-anchor="middle" textLength="32.4" lengthAdjust="spacingAndGlyphs">ANTI-MILDEW</text><text x="31.7" y="64.3" font-size="7.4" fill="#000" text-anchor="middle" textLength="37" lengthAdjust="spacingAndGlyphs">FAN SPEED</text><text x="71.4" y="64.3" font-size="7.4" fill="#000" text-anchor="middle" textLength="22.6" lengthAdjust="spacingAndGlyphs">SUPER</text><text x="110.1" y="64.3" font-size="7.4" fill="#000" text-anchor="middle" textLength="14" lengthAdjust="spacingAndGlyphs">ECO</text><text x="32.7" y="88.8" font-size="7.4" fill="#000" text-anchor="middle" textLength="22.2" lengthAdjust="spacingAndGlyphs">SWING</text><text x="72.5" y="88.8" font-size="7.4" fill="#000" text-anchor="middle" textLength="21.6" lengthAdjust="spacingAndGlyphs">SLEEP</text><text x="107.8" y="88.8" font-size="7.4" fill="#000" text-anchor="middle" textLength="30" lengthAdjust="spacingAndGlyphs">HEALTHY</text><path d="M27.1 46.7C26.93 45.87 25.8 44.75 24.2 43.9C22.6 43.05 19.72 42.23 17.5 41.6C15.28 40.97 12.78 40.75 10.9 40.1C9.02 39.45 7.93 38.25 6.2 37.7C4.47 37.15 2.48 36.88 0.5 36.8C-1.48 36.72 -3.87 36.88 -5.7 37.2C-7.53 37.52 -8.92 38.42 -10.5 38.7C-12.08 38.98 -13.93 38.43 -15.2 38.9C-16.47 39.37 -17.47 40.43 -18.1 41.5C-18.73 42.57 -19 44.03 -19 45.3C-19 46.57 -18.97 47.92 -18.1 49.1C-17.23 50.28 -15.07 51.22 -13.8 52.4C-12.53 53.58 -12.08 55.08 -10.5 56.2C-8.92 57.32 -6.28 58.3 -4.3 59.1C-2.32 59.9 -0.18 60.85 1.4 61C2.98 61.15 4.02 60.55 5.2 60C6.38 59.45 7.38 58.4 8.5 57.7C9.62 57 11.1 56.52 11.9 55.8C12.7 55.08 13.23 54.12 13.3 53.4C13.37 52.68 12.15 52.22 12.3 51.5C12.45 50.78 13.8 49.82 14.2 49.1C14.6 48.38 13.67 47.32 14.7 47.2C15.73 47.08 18.65 48.12 20.4 48.4C22.15 48.68 24.08 49.18 25.2 48.9C26.32 48.62 27.27 47.53 27.1 46.7Z" fill="#fff" stroke="#000" stroke-width="1.15" stroke-linejoin="round"/><path d="M10 45.6L14.4 46.9M8.4 50.9L12.4 51.4" fill="none" stroke="#000" stroke-width="0.9"/></g></g></g>
<g class="mode-box feel"><rect x="930.5" y="414.5" width="76" height="62" fill="#fff" stroke="#2a2a2a" stroke-width="1.05"/><text x="939.2" y="433" font-size="16.6" fill="#000" font-weight="400" textLength="36" lengthAdjust="spacingAndGlyphs">FEEL</text><rect x="981.1" y="422.1" width="10.9" height="10.8" fill="#000"/><use href="#i-tri3" transform="translate(953.5 455.2)" color="#000"/><use href="#s-feel" transform="translate(984.4 456.2) scale(2.42)" color="#000"/></g>
<g class="figure feel"><text x="1282.7" y="423.5" font-size="14" fill="#000" textLength="32.2" lengthAdjust="spacingAndGlyphs">FEEL</text><rect x="1317.9" y="413.9" width="9.4" height="8.3" fill="#000"/><g class="lcd-wide"><g transform="translate(1272.6 440.9) scale(1.0193 1.0111)"><rect width="150" height="81" rx="4.5" fill="#b1b1b1"/><rect x="32" y="7.4" width="94" height="60.4" rx="2.5" fill="#ececec"/><text x="6.9" y="16.3" font-size="9.8" fill="#fff" textLength="21.3" lengthAdjust="spacingAndGlyphs">FEEL</text><text x="4.7" y="27.8" font-size="9.8" fill="#fff" textLength="23.5" lengthAdjust="spacingAndGlyphs">COOL</text><text x="10.5" y="40.5" font-size="9.8" fill="#fff" textLength="17.7" lengthAdjust="spacingAndGlyphs">DRY</text><text x="11.75" y="53.4" font-size="9.8" fill="#fff" textLength="16.45" lengthAdjust="spacingAndGlyphs">FAN</text><text x="7.6" y="65.2" font-size="9.8" fill="#fff" textLength="20.6" lengthAdjust="spacingAndGlyphs">HEAT</text><text x="128.7" y="11.75" font-size="9.6" fill="#fff" textLength="11.2" lengthAdjust="spacingAndGlyphs">FAN</text><text x="128.7" y="23.3" font-size="9.6" fill="#fff" textLength="19.7" lengthAdjust="spacingAndGlyphs">SPEED</text><text x="128.7" y="38.4" font-size="9.6" fill="#fff" textLength="10" lengthAdjust="spacingAndGlyphs">AIR</text><text x="128.7" y="50.2" font-size="9.6" fill="#fff" textLength="19.7" lengthAdjust="spacingAndGlyphs">SWING</text><text x="44.3" y="77.2" font-size="9.4" fill="#fff" textLength="38.2" lengthAdjust="spacingAndGlyphs">HEALTHY</text><text x="94.9" y="77.2" font-size="9.4" fill="#fff" textLength="25.8" lengthAdjust="spacingAndGlyphs">TIMER</text><rect x="34.9" y="11" width="5.3" height="5" fill="#000"/><rect x="34.9" y="22.8" width="5.3" height="5" fill="#b1b1b1"/><rect x="34.9" y="34.8" width="5.3" height="5" fill="#b1b1b1"/><rect x="34.9" y="46.9" width="5.3" height="5" fill="#b1b1b1"/><rect x="34.9" y="59.2" width="5.3" height="5" fill="#b1b1b1"/><text x="43.6" y="38.6" font-size="39.6" fill="#b1b1b1" font-weight="400" font-style="italic" stroke="#b1b1b1" stroke-width="0.25" stroke-linejoin="round" textLength="31.8" lengthAdjust="spacingAndGlyphs">26</text><path d="M77.6 28.6L79.8 24.1L82 28.6Z" fill="#000"/><text x="77.3" y="38.4" font-size="8.6" fill="#b1b1b1" textLength="5.2" lengthAdjust="spacingAndGlyphs">C</text><circle cx="76.5" cy="31.6" r="0.8" fill="none" stroke="#b1b1b1" stroke-width="0.5"/><rect x="103.1" y="13.6" width="3.8" height="3.2" fill="#b1b1b1"/><rect x="107.7" y="12.8" width="3.8" height="4" fill="#b1b1b1"/><rect x="111.9" y="11.9" width="3.8" height="4.9" fill="#b1b1b1"/><rect x="116.1" y="11" width="3.8" height="5.8" fill="#b1b1b1"/><rect x="120.7" y="10.2" width="3.8" height="6.6" fill="#b1b1b1"/><text x="88.4" y="23.9" font-size="7" fill="#b1b1b1" font-weight="400" textLength="30" lengthAdjust="spacingAndGlyphs">AUTOQUIET</text><text x="88.4" y="30.6" font-size="7" fill="#b1b1b1" font-weight="400" textLength="29.4" lengthAdjust="spacingAndGlyphs">POWERFUL</text><path d="M124.94 39.09L125.67 51.07L121.71 50.86L123.69 39.02Z" fill="#b1b1b1"/><path d="M123.13 38.9L119.92 50.46L116.25 48.98L121.98 38.43Z" fill="#b1b1b1"/><path d="M121.48 38.13L114.69 48.02L111.7 45.42L120.54 37.32Z" fill="#b1b1b1"/><path d="M120.18 36.87L110.53 44.01L108.55 40.58L119.56 35.79Z" fill="#b1b1b1"/><path d="M119.35 35.25L107.91 38.86L107.15 34.97L119.12 34.03Z" fill="#b1b1b1"/><path d="M124.6 34.2h-6l6 6z" fill="#b1b1b1"/><text x="86.8" y="53.5" font-size="13" fill="#b1b1b1" font-weight="400" font-style="italic" stroke="#b1b1b1" stroke-width="0.3" stroke-linejoin="round" textLength="14" lengthAdjust="spacingAndGlyphs">6.0</text><text x="102.5" y="48.2" font-size="7.6" fill="#b1b1b1" textLength="6.5" lengthAdjust="spacingAndGlyphs">hr</text><text x="103.1" y="54.7" font-size="7" fill="#b1b1b1" font-weight="400" textLength="18.2" lengthAdjust="spacingAndGlyphs">DELAY</text><path d="M68.4 58H81V65.8H66.1Z" fill="#b1b1b1"/><text x="73.9" y="63.9" font-size="5" fill="#ececec" text-anchor="middle">ON</text><path d="M87 58H100.7L103.1 65.8H87Z" fill="#b1b1b1"/><text x="94.2" y="63.9" font-size="5" fill="#ececec" text-anchor="middle" textLength="8.4" lengthAdjust="spacingAndGlyphs">OFF</text><path d="M111.3 58H124.3V65.8H109Z" fill="#b1b1b1"/><text x="117.3" y="63.9" font-size="5" fill="#ececec" text-anchor="middle">ON</text></g><path d="M1315.5 451.01V507.43M1358.5 482.46V507.43" stroke="#000" stroke-width="1.15" fill="none"/></g><path d="M1320 427.8L1312.1 450.5" stroke="#000" stroke-width="0.85" fill="none"/><g class="lcd-main"><g transform="translate(1432.3 440.9) scale(1.0143 1.0108)"><rect width="147.3" height="101.7" rx="6" fill="#b1b1b1"/><rect x="16" y="11" width="115.8" height="79.9" rx="5.5" fill="#ececec"/><use href="#i-trib" transform="translate(25.6 22.3)" color="#000"/><use href="#i-snow" transform="translate(49.2 22.5)" color="#b1b1b1"/><use href="#i-drop" transform="translate(71.9 22.7)" color="#b1b1b1"/><use href="#i-fan" transform="translate(95.1 22.7)" color="#b1b1b1"/><use href="#i-sun" transform="translate(118.7 22.5)" color="#b1b1b1"/><use href="#i-wifi" transform="translate(34.8 39.2)" color="#000"/><text x="39.6" y="70.3" font-size="46.4" fill="#b1b1b1" font-weight="400" font-style="italic" stroke="#b1b1b1" stroke-width="0.35" stroke-linejoin="round" textLength="44" lengthAdjust="spacingAndGlyphs">26</text><circle cx="91.5" cy="38.4" r="1" fill="none" stroke="#b1b1b1" stroke-width="0.5"/><text x="92.2" y="51.3" font-size="15" fill="#b1b1b1" font-weight="400" font-style="italic" textLength="10" lengthAdjust="spacingAndGlyphs">C</text><text x="92" y="70.2" font-size="20" fill="#b1b1b1" font-weight="400" font-style="italic" textLength="10" lengthAdjust="spacingAndGlyphs">h</text><use href="#i-clockf" transform="translate(119.4 43.3)" color="#b1b1b1"/><use href="#i-clocko" transform="translate(119.7 61.7)" color="#b1b1b1"/><use href="#i-swirl" transform="translate(24.5 81.47)" color="#b1b1b1"/><use href="#i-fan3" transform="translate(42.4 81.67)" color="#b1b1b1"/><use href="#i-fan4" transform="translate(60.1 81.47)" color="#b1b1b1"/><use href="#i-fan6" transform="translate(77.9 81.67)" color="#b1b1b1"/><use href="#i-moon" transform="translate(97.8 81.67)" color="#b1b1b1"/><use href="#i-swing" transform="translate(118.3 81.67)" color="#b1b1b1"/></g><path d="M1448.53 474.5H1565.98M1448.53 514.5H1565.98M1542.5 474.5V514.5" stroke="#000" stroke-width="1.05" fill="none"/></g><use href="#i-trib" transform="translate(1501.2 423.4)" color="#000"/><path d="M1488.7 428.3L1459.8 457.5" stroke="#000" stroke-width="0.85" fill="none"/><g class="lcd-remote" transform="translate(1276.4 549.2) scale(0.9937 0.9950)"><rect x="0.5" y="0.5" width="94" height="120" rx="9" fill="#b1b1b1" stroke="#858585" stroke-width="1"/><rect x="5.2" y="6.4" width="84.6" height="99.8" rx="6.5" fill="#ececec" stroke="#fff" stroke-width="1.8"/><use href="#s-feel" transform="translate(18 18.3)" color="#000"/><use href="#s-snow" transform="translate(31.4 18.3)" color="#b1b1b1"/><use href="#s-fan" transform="translate(47.2 18.3)" color="#b1b1b1"/><use href="#s-drop" transform="translate(62.4 18.5)" color="#b1b1b1"/><use href="#s-sun" transform="translate(76.2 18.3)" color="#b1b1b1"/><use href="#s-heart" transform="translate(18 32.9)" color="#b1b1b1"/><use href="#s-moon" transform="translate(31.4 32.9)" color="#b1b1b1"/><use href="#s-swv" transform="translate(47.2 32.9)" color="#b1b1b1"/><use href="#s-swh" transform="translate(62.4 32.9)" color="#b1b1b1"/><use href="#s-louv" transform="translate(75.2 32.9)" color="#b1b1b1"/><path d="M11.9 39.7H83.7M11.9 81.6H83.7" stroke="#b1b1b1" stroke-width="0.9" fill="none"/><path d="M11.6 43.6H14.8L13.2 46Z" fill="#000"/><text x="11" y="77.1" font-size="45.6" fill="#b1b1b1" font-weight="400" font-style="italic" stroke="#b1b1b1" stroke-width="0.35" stroke-linejoin="round" textLength="36.8" lengthAdjust="spacingAndGlyphs">26</text><circle cx="52" cy="46.2" r="0.8" fill="none" stroke="#b1b1b1" stroke-width="0.5"/><text x="52.6" y="53.5" font-size="11.4" fill="#b1b1b1" font-weight="400" font-style="italic" textLength="6.4" lengthAdjust="spacingAndGlyphs">C</text><circle cx="51" cy="57.6" r="0.8" fill="none" stroke="#b1b1b1" stroke-width="0.5"/><text x="51.6" y="65.1" font-size="11.4" fill="#b1b1b1" font-weight="400" font-style="italic" textLength="6" lengthAdjust="spacingAndGlyphs">F</text><text x="49.2" y="76.7" font-size="13" fill="#b1b1b1" font-weight="400" font-style="italic" textLength="6" lengthAdjust="spacingAndGlyphs">h</text><use href="#s-tree" transform="translate(65.5 49.9)" color="#b1b1b1"/><use href="#s-gear" transform="translate(65.5 60.8)" color="#b1b1b1"/><use href="#s-flame" transform="translate(65.5 72.4)" color="#b1b1b1"/><use href="#s-heat" transform="translate(78.2 72.4)" color="#b1b1b1"/><path d="M71.8 45.3H82.3V47.08H72.38Z" fill="#b1b1b1"/><path d="M72.61 47.77H82.3V49.56H73.2Z" fill="#b1b1b1"/><path d="M73.42 50.25H82.3V52.03H74.01Z" fill="#b1b1b1"/><path d="M74.24 52.72H82.3V54.51H74.82Z" fill="#b1b1b1"/><path d="M75.05 55.2H82.3V56.98H75.63Z" fill="#b1b1b1"/><path d="M75.86 57.67H82.3V59.46H76.45Z" fill="#b1b1b1"/><path d="M76.67 60.15H82.3V61.93H77.26Z" fill="#b1b1b1"/><path d="M77.49 62.62H82.3V64.41H78.07Z" fill="#b1b1b1"/><use href="#s-eco" transform="translate(15.3 93.1)" color="#b1b1b1"/><use href="#i-clocks" transform="translate(28.4 92.8)" color="#b1b1b1"/><text x="36.4" y="91.3" font-size="6.6" fill="#b1b1b1" font-weight="400" textLength="7.8" lengthAdjust="spacingAndGlyphs">ON</text><text x="35.2" y="99.2" font-size="6.6" fill="#b1b1b1" font-weight="400" textLength="9.4" lengthAdjust="spacingAndGlyphs">OFF</text><text x="48" y="100.1" font-size="19.4" fill="#b1b1b1" font-weight="400" font-style="italic" stroke="#b1b1b1" stroke-width="0.3" stroke-linejoin="round" textLength="35.6" lengthAdjust="spacingAndGlyphs">88:88</text></g><use href="#s-feel" transform="translate(1337 535.4) scale(1.8)" color="#000"/><path d="M1323.7 533.6L1295.3 563.8" stroke="#000" stroke-width="0.85" fill="none"/><g class="keypad"><rect x="1436.5" y="562.5" width="139" height="110" fill="#fff"/><rect x="1445.5" y="562.5" width="122" height="110" fill="#e9e9e9"/><path d="M1436.5 562.5H1575.5V672.5H1436.5ZM1445.5 562.5V672.5M1567.5 562.5V672.5" fill="none" stroke="#000" stroke-width="1.05"/><g class="keys" transform="translate(1436.3 562.3) scale(1.0080 1.0194)"><rect x="21" y="15" width="24.5" height="13.8" rx="6.6" fill="#b1b1b1" stroke="#000" stroke-width="0.9"/><path d="M63.6 14.6H81.8Q84 15 82.6 17L73.6 28.6Q72.5 29.8 71.4 28.6L62.8 17Q61.6 15 63.6 14.6Z" fill="#fff" stroke="#000" stroke-width="0.9"/><path d="M95.2 29.9H112.6Q114.6 29.4 113.4 27.6L104.8 15.6Q103.8 14.4 102.8 15.6L94.4 27.6Q93.2 29.4 95.2 29.9Z" fill="#fff" stroke="#000" stroke-width="0.9"/><rect x="21" y="42.3" width="24.5" height="12.2" rx="6.1" fill="#fff" stroke="#000" stroke-width="0.9"/><rect x="57.9" y="42.3" width="24.5" height="12.2" rx="6.1" fill="#fff" stroke="#000" stroke-width="0.9"/><rect x="94.6" y="42.3" width="24.5" height="12.2" rx="6.1" fill="#fff" stroke="#000" stroke-width="0.9"/><rect x="21" y="66.6" width="24.5" height="12.2" rx="6.1" fill="#fff" stroke="#000" stroke-width="0.9"/><rect x="57.9" y="66.6" width="24.5" height="12.2" rx="6.1" fill="#fff" stroke="#000" stroke-width="0.9"/><rect x="94.6" y="66.6" width="24.5" height="12.2" rx="6.1" fill="#fff" stroke="#000" stroke-width="0.9"/><rect x="21" y="91.1" width="24.5" height="12.2" rx="6.1" fill="#fff" stroke="#000" stroke-width="0.9"/><rect x="57.9" y="91.1" width="24.5" height="12.2" rx="6.1" fill="#fff" stroke="#000" stroke-width="0.9"/><rect x="94.6" y="91.1" width="24.5" height="12.2" rx="6.1" fill="#fff" stroke="#000" stroke-width="0.9"/><text x="32.7" y="10.2" font-size="7.4" fill="#000" text-anchor="middle" textLength="24.6" lengthAdjust="spacingAndGlyphs">ON/OFF</text><text x="33.3" y="39.2" font-size="7.4" fill="#000" text-anchor="middle" textLength="19.6" lengthAdjust="spacingAndGlyphs">MODE</text><text x="72.9" y="39.2" font-size="7.4" fill="#000" text-anchor="middle" textLength="20.2" lengthAdjust="spacingAndGlyphs">TIMER</text><text x="106.4" y="39.2" font-size="7.4" fill="#000" text-anchor="middle" textLength="32.4" lengthAdjust="spacingAndGlyphs">ANTI-MILDEW</text><text x="31.7" y="64.3" font-size="7.4" fill="#000" text-anchor="middle" textLength="37" lengthAdjust="spacingAndGlyphs">FAN SPEED</text><text x="71.4" y="64.3" font-size="7.4" fill="#000" text-anchor="middle" textLength="22.6" lengthAdjust="spacingAndGlyphs">SUPER</text><text x="110.1" y="64.3" font-size="7.4" fill="#000" text-anchor="middle" textLength="14" lengthAdjust="spacingAndGlyphs">ECO</text><text x="32.7" y="88.8" font-size="7.4" fill="#000" text-anchor="middle" textLength="22.2" lengthAdjust="spacingAndGlyphs">SWING</text><text x="72.5" y="88.8" font-size="7.4" fill="#000" text-anchor="middle" textLength="21.6" lengthAdjust="spacingAndGlyphs">SLEEP</text><text x="107.8" y="88.8" font-size="7.4" fill="#000" text-anchor="middle" textLength="30" lengthAdjust="spacingAndGlyphs">HEALTHY</text><path d="M27.1 46.7C26.93 45.87 25.8 44.75 24.2 43.9C22.6 43.05 19.72 42.23 17.5 41.6C15.28 40.97 12.78 40.75 10.9 40.1C9.02 39.45 7.93 38.25 6.2 37.7C4.47 37.15 2.48 36.88 0.5 36.8C-1.48 36.72 -3.87 36.88 -5.7 37.2C-7.53 37.52 -8.92 38.42 -10.5 38.7C-12.08 38.98 -13.93 38.43 -15.2 38.9C-16.47 39.37 -17.47 40.43 -18.1 41.5C-18.73 42.57 -19 44.03 -19 45.3C-19 46.57 -18.97 47.92 -18.1 49.1C-17.23 50.28 -15.07 51.22 -13.8 52.4C-12.53 53.58 -12.08 55.08 -10.5 56.2C-8.92 57.32 -6.28 58.3 -4.3 59.1C-2.32 59.9 -0.18 60.85 1.4 61C2.98 61.15 4.02 60.55 5.2 60C6.38 59.45 7.38 58.4 8.5 57.7C9.62 57 11.1 56.52 11.9 55.8C12.7 55.08 13.23 54.12 13.3 53.4C13.37 52.68 12.15 52.22 12.3 51.5C12.45 50.78 13.8 49.82 14.2 49.1C14.6 48.38 13.67 47.32 14.7 47.2C15.73 47.08 18.65 48.12 20.4 48.4C22.15 48.68 24.08 49.18 25.2 48.9C26.32 48.62 27.27 47.53 27.1 46.7Z" fill="#fff" stroke="#000" stroke-width="1.15" stroke-linejoin="round"/><path d="M10 45.6L14.4 46.9M8.4 50.9L12.4 51.4" fill="none" stroke="#000" stroke-width="0.9"/></g></g><text x="1397.8" y="579" font-family="Liberation Serif,serif" font-size="11.6" font-weight="700" stroke="#000" stroke-width="0.12" fill="#000">1</text><path d="M1404.9 575.5L1508.6 575.5L1508.6 581.5" stroke="#000" stroke-width="0.9" fill="none"/><text x="1397.8" y="597.8" font-family="Liberation Serif,serif" font-size="11.6" font-weight="700" stroke="#000" stroke-width="0.12" fill="#000">1</text><path d="M1406 594.5L1536.5 594.5L1536.5 590.8" stroke="#000" stroke-width="0.9" fill="none"/><text x="1397" y="638.1" font-family="Liberation Serif,serif" font-size="11.6" font-weight="700" stroke="#000" stroke-width="0.12" fill="#000">2</text><path d="M1404.4 635.5L1469.1 635.5" stroke="#000" stroke-width="0.95" fill="none"/><text x="1397" y="662.8" font-family="Liberation Serif,serif" font-size="11.6" font-weight="700" stroke="#000" stroke-width="0.12" fill="#000">3</text><path d="M1404.4 659.5L1469.1 659.5" stroke="#000" stroke-width="0.95" fill="none"/></g></svg>
</div>
</body>
</html>
